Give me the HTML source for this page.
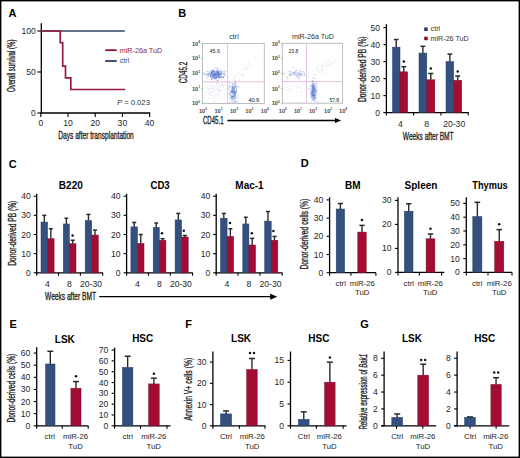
<!DOCTYPE html>
<html><head><meta charset="utf-8"><style>
html,body{margin:0;padding:0;background:#fff;}
body{width:520px;height:458px;overflow:hidden;}
svg{display:block;font-family:"Liberation Sans", sans-serif;}
</style></head><body>
<svg width="520" height="458" viewBox="0 0 520 458">
<defs><filter id="blur" x="-10%" y="-10%" width="120%" height="120%"><feGaussianBlur stdDeviation="0.6"/></filter></defs>
<rect x="0" y="0" width="520" height="458" fill="#fff"/>
<text x="8.5" y="17.25" font-size="11" fill="#000" font-weight="bold">A</text>
<line x1="41.3" y1="23.3" x2="41.3" y2="113.6" stroke="#000" stroke-width="1.3"/>
<line x1="40.6" y1="113" x2="150.2" y2="113" stroke="#000" stroke-width="1.3"/>
<line x1="37.3" y1="31" x2="41.3" y2="31" stroke="#000" stroke-width="1.1"/>
<text x="35.8" y="34.01" font-size="8.6" fill="#262626" text-anchor="end">100</text>
<line x1="37.3" y1="72" x2="41.3" y2="72" stroke="#000" stroke-width="1.1"/>
<text x="35.8" y="75.01" font-size="8.6" fill="#262626" text-anchor="end">50</text>
<line x1="37.3" y1="113" x2="41.3" y2="113" stroke="#000" stroke-width="1.1"/>
<text x="35.8" y="116.01" font-size="8.6" fill="#262626" text-anchor="end">0</text>
<line x1="40.8" y1="113" x2="40.8" y2="117" stroke="#000" stroke-width="1.1"/>
<text x="40.8" y="126.31" font-size="8.6" fill="#262626" text-anchor="middle">0</text>
<line x1="68" y1="113" x2="68" y2="117" stroke="#000" stroke-width="1.1"/>
<text x="68" y="126.31" font-size="8.6" fill="#262626" text-anchor="middle">10</text>
<line x1="95.2" y1="113" x2="95.2" y2="117" stroke="#000" stroke-width="1.1"/>
<text x="95.2" y="126.31" font-size="8.6" fill="#262626" text-anchor="middle">20</text>
<line x1="122.4" y1="113" x2="122.4" y2="117" stroke="#000" stroke-width="1.1"/>
<text x="122.4" y="126.31" font-size="8.6" fill="#262626" text-anchor="middle">30</text>
<line x1="149.6" y1="113" x2="149.6" y2="117" stroke="#000" stroke-width="1.1"/>
<text x="149.6" y="126.31" font-size="8.6" fill="#262626" text-anchor="middle">40</text>
<text x="96" y="139.17" font-size="10.2" fill="#222" stroke="#222" stroke-width="0.32" text-anchor="middle" textLength="75.5" lengthAdjust="spacingAndGlyphs">Days after transplantation</text>
<text transform="translate(15.37 65.8) rotate(-90)" font-size="10.2" fill="#222" stroke="#222" stroke-width="0.32" text-anchor="middle" textLength="52.4" lengthAdjust="spacingAndGlyphs">Overall survival (%)</text>
<line x1="41" y1="31" x2="124.8" y2="31" stroke="#2e456c" stroke-width="1.7"/>
<path d="M41 31 H60.2 V42.7 H62.7 V66.2 H65.5 V77.8 H70.8 V89.5 H125.2" fill="none" stroke="#951b3d" stroke-width="1.7"/>
<line x1="105.2" y1="50.2" x2="116.7" y2="50.2" stroke="#84173a" stroke-width="1.8"/>
<line x1="105.2" y1="61" x2="116.7" y2="61" stroke="#2a3d60" stroke-width="1.8"/>
<text x="119.8" y="52.69" font-size="7.1" fill="#8b2443" textLength="42.3" lengthAdjust="spacingAndGlyphs">miR-26a TuD</text>
<text x="119.8" y="62.98" font-size="7.1" fill="#3d4d70">ctrl</text>
<text x="116.9" y="104.8" font-size="8" fill="#333" textLength="33" lengthAdjust="spacingAndGlyphs"><tspan font-style="italic">P</tspan> = 0.023</text>
<text x="178.2" y="17.05" font-size="11" fill="#000" font-weight="bold">B</text>
<text transform="translate(186.57 72.5) rotate(-90)" font-size="10.2" fill="#222" stroke="#222" stroke-width="0.32" text-anchor="middle" textLength="21.5" lengthAdjust="spacingAndGlyphs">CD45.2</text>
<text x="203" y="123.97" font-size="10.2" fill="#222" stroke="#222" stroke-width="0.32" textLength="20.5" lengthAdjust="spacingAndGlyphs">CD45.1</text>
<line x1="227.4" y1="120.5" x2="336" y2="120.5" stroke="#000" stroke-width="1.3"/>
<path d="M341.2 120.5 L335 117.9 L335 123.1 Z" fill="#000"/>
<rect x="202.5" y="43.5" width="61.8" height="60" fill="none" stroke="#b8b8b8" stroke-width="0.9"/>
<text x="234" y="39.48" font-size="7.1" fill="#333" text-anchor="middle">ctrl</text>
<text x="191.9" y="105.4" font-size="5.6" font-weight="bold" fill="#4a4a4a">10<tspan font-size="3.2" dy="-2.6">0</tspan></text>
<line x1="201.3" y1="103.4" x2="202.5" y2="103.4" stroke="#888" stroke-width="0.6"/>
<text x="191.9" y="90.5" font-size="5.6" font-weight="bold" fill="#4a4a4a">10<tspan font-size="3.2" dy="-2.6">1</tspan></text>
<line x1="201.3" y1="88.5" x2="202.5" y2="88.5" stroke="#888" stroke-width="0.6"/>
<text x="191.9" y="75.3" font-size="5.6" font-weight="bold" fill="#4a4a4a">10<tspan font-size="3.2" dy="-2.6">2</tspan></text>
<line x1="201.3" y1="73.3" x2="202.5" y2="73.3" stroke="#888" stroke-width="0.6"/>
<text x="191.9" y="60.4" font-size="5.6" font-weight="bold" fill="#4a4a4a">10<tspan font-size="3.2" dy="-2.6">3</tspan></text>
<line x1="201.3" y1="58.4" x2="202.5" y2="58.4" stroke="#888" stroke-width="0.6"/>
<text x="191.9" y="46" font-size="5.6" font-weight="bold" fill="#4a4a4a">10<tspan font-size="3.2" dy="-2.6">4</tspan></text>
<line x1="201.3" y1="44" x2="202.5" y2="44" stroke="#888" stroke-width="0.6"/>
<text x="199" y="112.5" font-size="5.6" font-weight="bold" fill="#4a4a4a">10<tspan font-size="3.2" dy="-2.6">0</tspan></text>
<text x="214.45" y="112.5" font-size="5.6" font-weight="bold" fill="#4a4a4a">10<tspan font-size="3.2" dy="-2.6">1</tspan></text>
<text x="229.9" y="112.5" font-size="5.6" font-weight="bold" fill="#4a4a4a">10<tspan font-size="3.2" dy="-2.6">2</tspan></text>
<text x="245.35" y="112.5" font-size="5.6" font-weight="bold" fill="#4a4a4a">10<tspan font-size="3.2" dy="-2.6">3</tspan></text>
<text x="260.8" y="112.5" font-size="5.6" font-weight="bold" fill="#4a4a4a">10<tspan font-size="3.2" dy="-2.6">4</tspan></text>
<g filter="url(#blur)">
<circle cx="221.4" cy="77.8" r="0.6" fill="#5476cc" fill-opacity="0.4"/>
<circle cx="215.8" cy="72.7" r="0.6" fill="#5476cc" fill-opacity="0.4"/>
<circle cx="210.5" cy="74.6" r="0.6" fill="#5476cc" fill-opacity="0.4"/>
<circle cx="210.8" cy="71.2" r="0.6" fill="#5476cc" fill-opacity="0.4"/>
<circle cx="216.4" cy="74.8" r="0.6" fill="#5476cc" fill-opacity="0.4"/>
<circle cx="218.0" cy="72.4" r="0.6" fill="#5476cc" fill-opacity="0.4"/>
<circle cx="215.5" cy="74.4" r="0.6" fill="#5476cc" fill-opacity="0.4"/>
<circle cx="208.6" cy="75.7" r="0.6" fill="#5476cc" fill-opacity="0.4"/>
<circle cx="217.0" cy="80.0" r="0.6" fill="#5476cc" fill-opacity="0.4"/>
<circle cx="216.4" cy="74.2" r="0.6" fill="#5476cc" fill-opacity="0.4"/>
<circle cx="221.2" cy="75.0" r="0.6" fill="#5476cc" fill-opacity="0.4"/>
<circle cx="219.7" cy="73.7" r="0.6" fill="#5476cc" fill-opacity="0.4"/>
<circle cx="216.5" cy="76.9" r="0.6" fill="#5476cc" fill-opacity="0.4"/>
<circle cx="218.7" cy="74.8" r="0.6" fill="#5476cc" fill-opacity="0.4"/>
<circle cx="210.5" cy="75.5" r="0.6" fill="#5476cc" fill-opacity="0.4"/>
<circle cx="215.9" cy="76.2" r="0.6" fill="#5476cc" fill-opacity="0.4"/>
<circle cx="216.5" cy="77.0" r="0.6" fill="#5476cc" fill-opacity="0.4"/>
<circle cx="215.3" cy="75.0" r="0.6" fill="#5476cc" fill-opacity="0.4"/>
<circle cx="218.6" cy="72.0" r="0.6" fill="#5476cc" fill-opacity="0.4"/>
<circle cx="213.7" cy="73.3" r="0.6" fill="#5476cc" fill-opacity="0.4"/>
<circle cx="224.6" cy="74.3" r="0.6" fill="#5476cc" fill-opacity="0.4"/>
<circle cx="218.5" cy="75.9" r="0.6" fill="#5476cc" fill-opacity="0.4"/>
<circle cx="214.2" cy="70.9" r="0.6" fill="#5476cc" fill-opacity="0.4"/>
<circle cx="219.9" cy="73.6" r="0.6" fill="#5476cc" fill-opacity="0.4"/>
<circle cx="218.8" cy="71.5" r="0.6" fill="#5476cc" fill-opacity="0.4"/>
<circle cx="213.5" cy="77.4" r="0.6" fill="#5476cc" fill-opacity="0.4"/>
<circle cx="222.1" cy="71.5" r="0.6" fill="#5476cc" fill-opacity="0.4"/>
<circle cx="209.4" cy="74.4" r="0.6" fill="#5476cc" fill-opacity="0.4"/>
<circle cx="218.8" cy="74.9" r="0.6" fill="#5476cc" fill-opacity="0.4"/>
<circle cx="216.9" cy="72.2" r="0.6" fill="#5476cc" fill-opacity="0.4"/>
<circle cx="218.2" cy="77.1" r="0.6" fill="#5476cc" fill-opacity="0.4"/>
<circle cx="213.5" cy="71.2" r="0.6" fill="#5476cc" fill-opacity="0.4"/>
<circle cx="212.0" cy="76.3" r="0.6" fill="#5476cc" fill-opacity="0.4"/>
<circle cx="207.5" cy="74.3" r="0.6" fill="#5476cc" fill-opacity="0.4"/>
<circle cx="210.9" cy="74.2" r="0.6" fill="#5476cc" fill-opacity="0.4"/>
<circle cx="214.4" cy="74.5" r="0.6" fill="#5476cc" fill-opacity="0.4"/>
<circle cx="222.4" cy="75.5" r="0.6" fill="#5476cc" fill-opacity="0.4"/>
<circle cx="221.6" cy="74.2" r="0.6" fill="#5476cc" fill-opacity="0.4"/>
<circle cx="213.3" cy="75.4" r="0.6" fill="#5476cc" fill-opacity="0.4"/>
<circle cx="216.2" cy="71.7" r="0.6" fill="#5476cc" fill-opacity="0.4"/>
<circle cx="217.6" cy="73.2" r="0.6" fill="#5476cc" fill-opacity="0.4"/>
<circle cx="204.2" cy="74.0" r="0.6" fill="#5476cc" fill-opacity="0.4"/>
<circle cx="211.0" cy="73.3" r="0.6" fill="#5476cc" fill-opacity="0.4"/>
<circle cx="214.8" cy="77.4" r="0.6" fill="#5476cc" fill-opacity="0.4"/>
<circle cx="216.0" cy="74.4" r="0.6" fill="#5476cc" fill-opacity="0.4"/>
<circle cx="217.3" cy="70.3" r="0.6" fill="#5476cc" fill-opacity="0.4"/>
<circle cx="221.2" cy="72.0" r="0.6" fill="#5476cc" fill-opacity="0.4"/>
<circle cx="217.5" cy="71.9" r="0.6" fill="#5476cc" fill-opacity="0.4"/>
<circle cx="211.0" cy="73.6" r="0.6" fill="#5476cc" fill-opacity="0.4"/>
<circle cx="224.2" cy="76.1" r="0.6" fill="#5476cc" fill-opacity="0.4"/>
<circle cx="212.7" cy="73.8" r="0.6" fill="#5476cc" fill-opacity="0.4"/>
<circle cx="210.2" cy="74.4" r="0.6" fill="#5476cc" fill-opacity="0.4"/>
<circle cx="212.9" cy="76.2" r="0.6" fill="#5476cc" fill-opacity="0.4"/>
<circle cx="209.3" cy="73.7" r="0.6" fill="#5476cc" fill-opacity="0.4"/>
<circle cx="211.6" cy="72.8" r="0.6" fill="#5476cc" fill-opacity="0.4"/>
<circle cx="218.8" cy="74.8" r="0.6" fill="#5476cc" fill-opacity="0.4"/>
<circle cx="218.2" cy="77.2" r="0.6" fill="#5476cc" fill-opacity="0.4"/>
<circle cx="220.8" cy="71.3" r="0.6" fill="#5476cc" fill-opacity="0.4"/>
<circle cx="218.0" cy="70.4" r="0.6" fill="#5476cc" fill-opacity="0.4"/>
<circle cx="215.2" cy="78.9" r="0.6" fill="#5476cc" fill-opacity="0.4"/>
<circle cx="214.6" cy="73.7" r="0.6" fill="#5476cc" fill-opacity="0.4"/>
<circle cx="216.3" cy="74.5" r="0.6" fill="#5476cc" fill-opacity="0.4"/>
<circle cx="215.6" cy="72.8" r="0.6" fill="#5476cc" fill-opacity="0.4"/>
<circle cx="220.5" cy="76.5" r="0.6" fill="#5476cc" fill-opacity="0.4"/>
<circle cx="214.5" cy="75.2" r="0.6" fill="#5476cc" fill-opacity="0.4"/>
<circle cx="218.5" cy="76.9" r="0.6" fill="#5476cc" fill-opacity="0.4"/>
<circle cx="217.3" cy="76.1" r="0.6" fill="#5476cc" fill-opacity="0.4"/>
<circle cx="214.3" cy="72.0" r="0.6" fill="#5476cc" fill-opacity="0.4"/>
<circle cx="213.2" cy="76.8" r="0.6" fill="#5476cc" fill-opacity="0.4"/>
<circle cx="220.0" cy="74.8" r="0.6" fill="#5476cc" fill-opacity="0.4"/>
<circle cx="212.9" cy="75.2" r="0.6" fill="#5476cc" fill-opacity="0.4"/>
<circle cx="223.2" cy="77.6" r="0.6" fill="#5476cc" fill-opacity="0.4"/>
<circle cx="212.4" cy="74.4" r="0.6" fill="#5476cc" fill-opacity="0.4"/>
<circle cx="208.8" cy="71.9" r="0.6" fill="#5476cc" fill-opacity="0.4"/>
<circle cx="216.4" cy="74.6" r="0.6" fill="#5476cc" fill-opacity="0.4"/>
<circle cx="219.9" cy="77.4" r="0.6" fill="#5476cc" fill-opacity="0.4"/>
<circle cx="219.3" cy="77.5" r="0.6" fill="#5476cc" fill-opacity="0.4"/>
<circle cx="213.0" cy="71.9" r="0.6" fill="#5476cc" fill-opacity="0.4"/>
<circle cx="217.8" cy="80.7" r="0.6" fill="#5476cc" fill-opacity="0.4"/>
<circle cx="217.1" cy="71.9" r="0.6" fill="#5476cc" fill-opacity="0.4"/>
<circle cx="216.6" cy="77.8" r="0.6" fill="#5476cc" fill-opacity="0.4"/>
<circle cx="210.7" cy="76.3" r="0.6" fill="#5476cc" fill-opacity="0.4"/>
<circle cx="212.7" cy="77.4" r="0.6" fill="#5476cc" fill-opacity="0.4"/>
<circle cx="219.1" cy="75.2" r="0.6" fill="#5476cc" fill-opacity="0.4"/>
<circle cx="224.7" cy="73.6" r="0.6" fill="#5476cc" fill-opacity="0.4"/>
<circle cx="212.3" cy="78.8" r="0.6" fill="#5476cc" fill-opacity="0.4"/>
<circle cx="211.5" cy="79.6" r="0.6" fill="#5476cc" fill-opacity="0.4"/>
<circle cx="215.3" cy="72.1" r="0.6" fill="#5476cc" fill-opacity="0.4"/>
<circle cx="215.5" cy="74.8" r="0.6" fill="#5476cc" fill-opacity="0.4"/>
<circle cx="216.4" cy="74.1" r="0.6" fill="#5476cc" fill-opacity="0.4"/>
<circle cx="220.5" cy="69.2" r="0.6" fill="#5476cc" fill-opacity="0.4"/>
<circle cx="212.9" cy="73.9" r="0.6" fill="#5476cc" fill-opacity="0.4"/>
<circle cx="223.9" cy="69.9" r="0.6" fill="#5476cc" fill-opacity="0.4"/>
<circle cx="213.9" cy="71.9" r="0.6" fill="#5476cc" fill-opacity="0.4"/>
<circle cx="212.4" cy="76.0" r="0.6" fill="#5476cc" fill-opacity="0.4"/>
<circle cx="217.4" cy="77.8" r="0.6" fill="#5476cc" fill-opacity="0.4"/>
<circle cx="212.7" cy="75.1" r="0.6" fill="#5476cc" fill-opacity="0.4"/>
<circle cx="220.9" cy="76.6" r="0.6" fill="#5476cc" fill-opacity="0.4"/>
<circle cx="214.0" cy="77.1" r="0.6" fill="#5476cc" fill-opacity="0.4"/>
<circle cx="211.3" cy="78.6" r="0.6" fill="#5476cc" fill-opacity="0.4"/>
<circle cx="216.2" cy="74.2" r="0.6" fill="#5476cc" fill-opacity="0.4"/>
<circle cx="216.7" cy="76.5" r="0.6" fill="#5476cc" fill-opacity="0.4"/>
<circle cx="223.5" cy="74.2" r="0.6" fill="#5476cc" fill-opacity="0.4"/>
<circle cx="213.8" cy="75.8" r="0.6" fill="#5476cc" fill-opacity="0.4"/>
<circle cx="211.5" cy="70.6" r="0.6" fill="#5476cc" fill-opacity="0.4"/>
<circle cx="219.3" cy="73.6" r="0.6" fill="#5476cc" fill-opacity="0.4"/>
<circle cx="220.7" cy="72.1" r="0.6" fill="#5476cc" fill-opacity="0.4"/>
<circle cx="216.2" cy="78.2" r="0.6" fill="#5476cc" fill-opacity="0.4"/>
<circle cx="217.9" cy="75.2" r="0.6" fill="#5476cc" fill-opacity="0.4"/>
<circle cx="218.2" cy="73.7" r="0.6" fill="#5476cc" fill-opacity="0.4"/>
<circle cx="215.9" cy="71.4" r="0.6" fill="#5476cc" fill-opacity="0.4"/>
<circle cx="217.9" cy="72.6" r="0.6" fill="#5476cc" fill-opacity="0.4"/>
<circle cx="213.4" cy="76.1" r="0.6" fill="#5476cc" fill-opacity="0.4"/>
<circle cx="219.7" cy="72.2" r="0.6" fill="#5476cc" fill-opacity="0.4"/>
<circle cx="224.7" cy="73.1" r="0.6" fill="#5476cc" fill-opacity="0.4"/>
<circle cx="219.3" cy="76.7" r="0.6" fill="#5476cc" fill-opacity="0.4"/>
<circle cx="216.5" cy="74.9" r="0.6" fill="#5476cc" fill-opacity="0.4"/>
<circle cx="223.8" cy="76.5" r="0.6" fill="#5476cc" fill-opacity="0.4"/>
<circle cx="217.5" cy="70.3" r="0.6" fill="#5476cc" fill-opacity="0.4"/>
<circle cx="212.1" cy="77.2" r="0.6" fill="#5476cc" fill-opacity="0.4"/>
<circle cx="216.4" cy="72.3" r="0.6" fill="#5476cc" fill-opacity="0.4"/>
<circle cx="212.5" cy="73.8" r="0.6" fill="#5476cc" fill-opacity="0.4"/>
<circle cx="218.7" cy="75.4" r="0.6" fill="#5476cc" fill-opacity="0.4"/>
<circle cx="220.1" cy="72.6" r="0.6" fill="#5476cc" fill-opacity="0.4"/>
<circle cx="220.0" cy="73.3" r="0.6" fill="#5476cc" fill-opacity="0.4"/>
<circle cx="214.1" cy="78.5" r="0.6" fill="#5476cc" fill-opacity="0.4"/>
<circle cx="215.8" cy="74.2" r="0.6" fill="#5476cc" fill-opacity="0.4"/>
<circle cx="214.5" cy="73.6" r="0.6" fill="#5476cc" fill-opacity="0.4"/>
<circle cx="222.7" cy="77.7" r="0.6" fill="#5476cc" fill-opacity="0.4"/>
<circle cx="218.8" cy="74.9" r="0.6" fill="#5476cc" fill-opacity="0.4"/>
<circle cx="220.3" cy="74.3" r="0.6" fill="#5476cc" fill-opacity="0.4"/>
<circle cx="217.6" cy="75.4" r="0.6" fill="#5476cc" fill-opacity="0.4"/>
<circle cx="215.9" cy="78.3" r="0.6" fill="#5476cc" fill-opacity="0.4"/>
<circle cx="223.6" cy="77.5" r="0.6" fill="#5476cc" fill-opacity="0.4"/>
<circle cx="206.7" cy="78.7" r="0.6" fill="#5476cc" fill-opacity="0.4"/>
<circle cx="218.7" cy="73.5" r="0.6" fill="#5476cc" fill-opacity="0.4"/>
<circle cx="215.4" cy="77.1" r="0.6" fill="#5476cc" fill-opacity="0.4"/>
<circle cx="220.9" cy="76.5" r="0.6" fill="#5476cc" fill-opacity="0.4"/>
<circle cx="216.1" cy="74.6" r="0.6" fill="#5476cc" fill-opacity="0.4"/>
<circle cx="219.3" cy="74.3" r="0.6" fill="#5476cc" fill-opacity="0.4"/>
<circle cx="211.4" cy="73.1" r="0.6" fill="#5476cc" fill-opacity="0.4"/>
<circle cx="214.9" cy="75.3" r="0.6" fill="#5476cc" fill-opacity="0.4"/>
<circle cx="225.9" cy="71.3" r="0.6" fill="#5476cc" fill-opacity="0.4"/>
<circle cx="217.7" cy="74.3" r="0.6" fill="#5476cc" fill-opacity="0.4"/>
<circle cx="216.9" cy="77.6" r="0.6" fill="#5476cc" fill-opacity="0.4"/>
<circle cx="221.2" cy="74.1" r="0.6" fill="#5476cc" fill-opacity="0.4"/>
<circle cx="212.9" cy="71.4" r="0.6" fill="#5476cc" fill-opacity="0.4"/>
<circle cx="215.2" cy="77.4" r="0.6" fill="#5476cc" fill-opacity="0.4"/>
<circle cx="214.3" cy="76.1" r="0.6" fill="#5476cc" fill-opacity="0.4"/>
<circle cx="218.8" cy="75.4" r="0.6" fill="#5476cc" fill-opacity="0.4"/>
<circle cx="220.5" cy="74.2" r="0.6" fill="#5476cc" fill-opacity="0.4"/>
<circle cx="211.7" cy="71.8" r="0.6" fill="#5476cc" fill-opacity="0.4"/>
<circle cx="219.8" cy="73.7" r="0.6" fill="#5476cc" fill-opacity="0.4"/>
<circle cx="214.1" cy="76.4" r="0.6" fill="#5476cc" fill-opacity="0.4"/>
<circle cx="211.9" cy="78.6" r="0.6" fill="#5476cc" fill-opacity="0.4"/>
<circle cx="218.6" cy="73.3" r="0.6" fill="#5476cc" fill-opacity="0.4"/>
<circle cx="212.6" cy="77.0" r="0.6" fill="#5476cc" fill-opacity="0.4"/>
<circle cx="210.1" cy="73.0" r="0.6" fill="#5476cc" fill-opacity="0.4"/>
<circle cx="215.5" cy="75.0" r="0.6" fill="#5476cc" fill-opacity="0.4"/>
<circle cx="215.6" cy="75.4" r="0.6" fill="#5476cc" fill-opacity="0.4"/>
<circle cx="213.8" cy="74.2" r="0.6" fill="#5476cc" fill-opacity="0.4"/>
<circle cx="221.3" cy="76.0" r="0.6" fill="#5476cc" fill-opacity="0.4"/>
<circle cx="213.4" cy="78.4" r="0.6" fill="#5476cc" fill-opacity="0.4"/>
<circle cx="206.3" cy="74.7" r="0.6" fill="#5476cc" fill-opacity="0.4"/>
<circle cx="218.6" cy="76.7" r="0.6" fill="#5476cc" fill-opacity="0.4"/>
<circle cx="216.0" cy="73.6" r="0.6" fill="#5476cc" fill-opacity="0.4"/>
<circle cx="218.2" cy="74.1" r="0.6" fill="#5476cc" fill-opacity="0.4"/>
<circle cx="217.7" cy="67.9" r="0.6" fill="#5476cc" fill-opacity="0.4"/>
<circle cx="217.3" cy="72.7" r="0.6" fill="#5476cc" fill-opacity="0.4"/>
<circle cx="219.8" cy="76.2" r="0.6" fill="#5476cc" fill-opacity="0.4"/>
<circle cx="218.9" cy="73.6" r="0.6" fill="#5476cc" fill-opacity="0.4"/>
<circle cx="217.5" cy="73.7" r="0.6" fill="#5476cc" fill-opacity="0.4"/>
<circle cx="216.5" cy="74.2" r="0.6" fill="#5476cc" fill-opacity="0.4"/>
<circle cx="211.5" cy="79.0" r="0.6" fill="#5476cc" fill-opacity="0.4"/>
<circle cx="218.8" cy="69.8" r="0.6" fill="#5476cc" fill-opacity="0.4"/>
<circle cx="219.6" cy="71.3" r="0.6" fill="#5476cc" fill-opacity="0.4"/>
<circle cx="214.4" cy="73.2" r="0.6" fill="#5476cc" fill-opacity="0.4"/>
<circle cx="213.0" cy="75.1" r="0.6" fill="#5476cc" fill-opacity="0.4"/>
<circle cx="214.0" cy="71.2" r="0.6" fill="#5476cc" fill-opacity="0.4"/>
<circle cx="215.5" cy="75.3" r="0.6" fill="#5476cc" fill-opacity="0.4"/>
<circle cx="223.6" cy="73.5" r="0.6" fill="#5476cc" fill-opacity="0.4"/>
<circle cx="210.0" cy="73.6" r="0.6" fill="#5476cc" fill-opacity="0.4"/>
<circle cx="218.5" cy="72.5" r="0.6" fill="#5476cc" fill-opacity="0.4"/>
<circle cx="212.2" cy="75.8" r="0.6" fill="#5476cc" fill-opacity="0.4"/>
<circle cx="215.4" cy="75.0" r="0.6" fill="#5476cc" fill-opacity="0.4"/>
<circle cx="212.6" cy="72.6" r="0.6" fill="#5476cc" fill-opacity="0.4"/>
<circle cx="214.0" cy="74.1" r="0.6" fill="#5476cc" fill-opacity="0.4"/>
<circle cx="214.0" cy="75.5" r="0.6" fill="#5476cc" fill-opacity="0.4"/>
<circle cx="218.0" cy="75.8" r="0.6" fill="#5476cc" fill-opacity="0.4"/>
<circle cx="217.7" cy="72.5" r="0.6" fill="#5476cc" fill-opacity="0.4"/>
<circle cx="210.4" cy="76.3" r="0.6" fill="#5476cc" fill-opacity="0.4"/>
<circle cx="215.6" cy="74.8" r="0.6" fill="#5476cc" fill-opacity="0.4"/>
<circle cx="210.2" cy="74.0" r="0.6" fill="#5476cc" fill-opacity="0.4"/>
<circle cx="212.6" cy="72.5" r="0.6" fill="#5476cc" fill-opacity="0.4"/>
<circle cx="212.6" cy="71.1" r="0.6" fill="#5476cc" fill-opacity="0.4"/>
<circle cx="215.9" cy="77.2" r="0.6" fill="#5476cc" fill-opacity="0.4"/>
<circle cx="212.2" cy="74.7" r="0.6" fill="#5476cc" fill-opacity="0.4"/>
<circle cx="210.5" cy="76.0" r="0.6" fill="#5476cc" fill-opacity="0.4"/>
<circle cx="224.1" cy="71.7" r="0.6" fill="#5476cc" fill-opacity="0.4"/>
<circle cx="214.5" cy="77.8" r="0.6" fill="#5476cc" fill-opacity="0.4"/>
<circle cx="217.2" cy="74.8" r="0.6" fill="#5476cc" fill-opacity="0.4"/>
<circle cx="206.1" cy="74.2" r="0.6" fill="#5476cc" fill-opacity="0.4"/>
<circle cx="219.7" cy="77.8" r="0.6" fill="#5476cc" fill-opacity="0.4"/>
<circle cx="218.4" cy="73.2" r="0.6" fill="#5476cc" fill-opacity="0.4"/>
<circle cx="212.3" cy="70.3" r="0.6" fill="#5476cc" fill-opacity="0.4"/>
<circle cx="210.6" cy="77.1" r="0.6" fill="#5476cc" fill-opacity="0.4"/>
<circle cx="215.0" cy="71.4" r="0.6" fill="#5476cc" fill-opacity="0.4"/>
<circle cx="221.6" cy="70.7" r="0.6" fill="#5476cc" fill-opacity="0.4"/>
<circle cx="221.3" cy="73.8" r="0.6" fill="#5476cc" fill-opacity="0.4"/>
<circle cx="217.1" cy="76.1" r="0.6" fill="#5476cc" fill-opacity="0.4"/>
<circle cx="216.7" cy="77.4" r="0.6" fill="#5476cc" fill-opacity="0.4"/>
<circle cx="215.6" cy="73.7" r="0.6" fill="#5476cc" fill-opacity="0.4"/>
<circle cx="212.5" cy="71.2" r="0.6" fill="#5476cc" fill-opacity="0.4"/>
<circle cx="212.3" cy="76.8" r="0.6" fill="#5476cc" fill-opacity="0.4"/>
<circle cx="219.3" cy="77.7" r="0.6" fill="#5476cc" fill-opacity="0.4"/>
<circle cx="228.0" cy="76.1" r="0.6" fill="#5476cc" fill-opacity="0.4"/>
<circle cx="217.8" cy="71.5" r="0.6" fill="#5476cc" fill-opacity="0.4"/>
<circle cx="214.4" cy="79.6" r="0.6" fill="#5476cc" fill-opacity="0.4"/>
<circle cx="217.9" cy="74.2" r="0.6" fill="#5476cc" fill-opacity="0.4"/>
<circle cx="216.9" cy="70.1" r="0.6" fill="#5476cc" fill-opacity="0.4"/>
<circle cx="211.7" cy="71.5" r="0.6" fill="#5476cc" fill-opacity="0.4"/>
<circle cx="205.7" cy="76.3" r="0.6" fill="#5476cc" fill-opacity="0.4"/>
<circle cx="219.9" cy="74.1" r="0.6" fill="#5476cc" fill-opacity="0.4"/>
<circle cx="217.1" cy="72.2" r="0.6" fill="#5476cc" fill-opacity="0.4"/>
<circle cx="217.6" cy="76.3" r="0.6" fill="#5476cc" fill-opacity="0.4"/>
<circle cx="222.6" cy="78.1" r="0.6" fill="#5476cc" fill-opacity="0.4"/>
<circle cx="217.7" cy="74.2" r="0.6" fill="#5476cc" fill-opacity="0.4"/>
<circle cx="211.7" cy="73.1" r="0.6" fill="#5476cc" fill-opacity="0.4"/>
<circle cx="218.3" cy="75.8" r="0.6" fill="#5476cc" fill-opacity="0.4"/>
<circle cx="215.6" cy="78.3" r="0.6" fill="#5476cc" fill-opacity="0.4"/>
<circle cx="218.5" cy="74.5" r="0.6" fill="#5476cc" fill-opacity="0.4"/>
<circle cx="214.6" cy="74.7" r="0.6" fill="#5476cc" fill-opacity="0.4"/>
<circle cx="211.1" cy="72.2" r="0.6" fill="#5476cc" fill-opacity="0.4"/>
<circle cx="217.1" cy="73.2" r="0.6" fill="#5476cc" fill-opacity="0.4"/>
<circle cx="214.3" cy="77.3" r="0.6" fill="#5476cc" fill-opacity="0.4"/>
<circle cx="214.6" cy="77.5" r="0.6" fill="#5476cc" fill-opacity="0.4"/>
<circle cx="215.5" cy="78.0" r="0.6" fill="#5476cc" fill-opacity="0.4"/>
<circle cx="217.6" cy="70.5" r="0.6" fill="#5476cc" fill-opacity="0.4"/>
<circle cx="221.2" cy="74.0" r="0.6" fill="#5476cc" fill-opacity="0.4"/>
<circle cx="206.5" cy="74.8" r="0.6" fill="#5476cc" fill-opacity="0.4"/>
<circle cx="216.2" cy="71.5" r="0.6" fill="#5476cc" fill-opacity="0.4"/>
<circle cx="212.7" cy="75.8" r="0.6" fill="#5476cc" fill-opacity="0.4"/>
<circle cx="222.0" cy="77.1" r="0.6" fill="#5476cc" fill-opacity="0.4"/>
<circle cx="221.1" cy="77.1" r="0.6" fill="#5476cc" fill-opacity="0.4"/>
<circle cx="204.1" cy="72.8" r="0.6" fill="#5476cc" fill-opacity="0.4"/>
<circle cx="216.4" cy="68.3" r="0.6" fill="#5476cc" fill-opacity="0.4"/>
<circle cx="219.0" cy="76.6" r="0.6" fill="#5476cc" fill-opacity="0.4"/>
<circle cx="211.9" cy="73.6" r="0.6" fill="#5476cc" fill-opacity="0.4"/>
<circle cx="211.2" cy="74.5" r="0.6" fill="#5476cc" fill-opacity="0.4"/>
<circle cx="215.3" cy="74.5" r="0.6" fill="#5476cc" fill-opacity="0.4"/>
<circle cx="210.8" cy="75.4" r="0.6" fill="#5476cc" fill-opacity="0.4"/>
<circle cx="213.9" cy="76.7" r="0.6" fill="#5476cc" fill-opacity="0.4"/>
<circle cx="216.9" cy="71.1" r="0.6" fill="#5476cc" fill-opacity="0.4"/>
<circle cx="208.9" cy="74.7" r="0.6" fill="#5476cc" fill-opacity="0.4"/>
<circle cx="213.3" cy="75.6" r="0.6" fill="#5476cc" fill-opacity="0.4"/>
<circle cx="219.2" cy="74.5" r="0.6" fill="#5476cc" fill-opacity="0.4"/>
<circle cx="207.7" cy="71.8" r="0.6" fill="#5476cc" fill-opacity="0.4"/>
<circle cx="218.1" cy="72.1" r="0.6" fill="#5476cc" fill-opacity="0.4"/>
<circle cx="220.6" cy="74.3" r="0.6" fill="#5476cc" fill-opacity="0.4"/>
<circle cx="217.9" cy="72.5" r="0.6" fill="#5476cc" fill-opacity="0.4"/>
<circle cx="215.0" cy="67.7" r="0.6" fill="#5476cc" fill-opacity="0.4"/>
<circle cx="214.5" cy="75.8" r="0.6" fill="#5476cc" fill-opacity="0.4"/>
<circle cx="211.4" cy="72.6" r="0.6" fill="#5476cc" fill-opacity="0.4"/>
<circle cx="215.3" cy="74.6" r="0.6" fill="#5476cc" fill-opacity="0.4"/>
<circle cx="211.8" cy="76.1" r="0.6" fill="#5476cc" fill-opacity="0.4"/>
<circle cx="207.9" cy="77.1" r="0.6" fill="#5476cc" fill-opacity="0.4"/>
<circle cx="209.0" cy="72.6" r="0.6" fill="#5476cc" fill-opacity="0.4"/>
<circle cx="221.6" cy="72.2" r="0.6" fill="#5476cc" fill-opacity="0.4"/>
<circle cx="207.9" cy="74.7" r="0.6" fill="#5476cc" fill-opacity="0.4"/>
<circle cx="211.3" cy="71.9" r="0.6" fill="#5476cc" fill-opacity="0.4"/>
<circle cx="212.3" cy="72.8" r="0.6" fill="#5476cc" fill-opacity="0.4"/>
<circle cx="211.0" cy="72.1" r="0.6" fill="#5476cc" fill-opacity="0.4"/>
<circle cx="222.9" cy="73.0" r="0.6" fill="#5476cc" fill-opacity="0.4"/>
<circle cx="220.0" cy="71.3" r="0.6" fill="#5476cc" fill-opacity="0.4"/>
<circle cx="218.0" cy="71.6" r="0.6" fill="#5476cc" fill-opacity="0.4"/>
<circle cx="213.4" cy="76.0" r="0.6" fill="#5476cc" fill-opacity="0.4"/>
<circle cx="213.1" cy="70.0" r="0.6" fill="#5476cc" fill-opacity="0.4"/>
<circle cx="213.0" cy="74.1" r="0.6" fill="#5476cc" fill-opacity="0.4"/>
<circle cx="218.1" cy="72.2" r="0.6" fill="#5476cc" fill-opacity="0.4"/>
<circle cx="214.1" cy="74.6" r="0.6" fill="#5476cc" fill-opacity="0.4"/>
<circle cx="207.9" cy="74.3" r="0.6" fill="#5476cc" fill-opacity="0.4"/>
<circle cx="211.7" cy="75.5" r="0.6" fill="#5476cc" fill-opacity="0.4"/>
<circle cx="215.0" cy="74.1" r="0.6" fill="#5476cc" fill-opacity="0.4"/>
<circle cx="204.4" cy="74.2" r="0.6" fill="#5476cc" fill-opacity="0.4"/>
<circle cx="213.8" cy="72.3" r="0.6" fill="#5476cc" fill-opacity="0.4"/>
<circle cx="213.2" cy="71.6" r="0.6" fill="#5476cc" fill-opacity="0.4"/>
<circle cx="216.3" cy="76.0" r="0.6" fill="#5476cc" fill-opacity="0.4"/>
<circle cx="218.2" cy="73.3" r="0.6" fill="#5476cc" fill-opacity="0.4"/>
<circle cx="223.2" cy="76.5" r="0.6" fill="#5476cc" fill-opacity="0.4"/>
<circle cx="211.1" cy="74.2" r="0.6" fill="#5476cc" fill-opacity="0.4"/>
<circle cx="208.0" cy="74.2" r="0.6" fill="#5476cc" fill-opacity="0.4"/>
<circle cx="218.8" cy="77.4" r="0.6" fill="#5476cc" fill-opacity="0.4"/>
<circle cx="213.6" cy="70.4" r="0.6" fill="#5476cc" fill-opacity="0.4"/>
<circle cx="214.7" cy="77.6" r="0.6" fill="#5476cc" fill-opacity="0.4"/>
<circle cx="216.2" cy="77.4" r="0.6" fill="#5476cc" fill-opacity="0.4"/>
<circle cx="219.3" cy="78.1" r="0.6" fill="#5476cc" fill-opacity="0.4"/>
<circle cx="218.3" cy="73.0" r="0.6" fill="#5476cc" fill-opacity="0.4"/>
<circle cx="217.6" cy="80.3" r="0.6" fill="#5476cc" fill-opacity="0.4"/>
<circle cx="213.1" cy="70.2" r="0.6" fill="#5476cc" fill-opacity="0.4"/>
<circle cx="225.2" cy="75.4" r="0.6" fill="#5476cc" fill-opacity="0.4"/>
<circle cx="212.6" cy="73.1" r="0.6" fill="#5476cc" fill-opacity="0.4"/>
<circle cx="208.4" cy="76.1" r="0.6" fill="#5476cc" fill-opacity="0.4"/>
<circle cx="216.2" cy="73.0" r="0.6" fill="#5476cc" fill-opacity="0.4"/>
<circle cx="213.6" cy="73.5" r="0.6" fill="#5476cc" fill-opacity="0.4"/>
<circle cx="220.4" cy="74.1" r="0.6" fill="#5476cc" fill-opacity="0.4"/>
<circle cx="221.8" cy="72.6" r="0.6" fill="#5476cc" fill-opacity="0.4"/>
<circle cx="212.7" cy="73.4" r="0.6" fill="#5476cc" fill-opacity="0.4"/>
<circle cx="213.0" cy="74.3" r="0.6" fill="#5476cc" fill-opacity="0.4"/>
<circle cx="220.2" cy="77.3" r="0.6" fill="#5476cc" fill-opacity="0.4"/>
<circle cx="210.6" cy="77.4" r="0.6" fill="#5476cc" fill-opacity="0.4"/>
<circle cx="215.9" cy="78.2" r="0.6" fill="#5476cc" fill-opacity="0.4"/>
<circle cx="214.7" cy="72.6" r="0.6" fill="#5476cc" fill-opacity="0.4"/>
<circle cx="219.1" cy="75.9" r="0.6" fill="#5476cc" fill-opacity="0.4"/>
<circle cx="213.4" cy="74.6" r="0.6" fill="#5476cc" fill-opacity="0.4"/>
<circle cx="216.1" cy="75.2" r="0.6" fill="#5476cc" fill-opacity="0.4"/>
<circle cx="207.6" cy="71.7" r="0.6" fill="#5476cc" fill-opacity="0.4"/>
<circle cx="215.8" cy="75.1" r="0.6" fill="#5476cc" fill-opacity="0.4"/>
<circle cx="213.1" cy="70.5" r="0.6" fill="#5476cc" fill-opacity="0.4"/>
<circle cx="236.2" cy="91.0" r="0.6" fill="#5a7acc" fill-opacity="0.4"/>
<circle cx="231.6" cy="100.2" r="0.6" fill="#5a7acc" fill-opacity="0.4"/>
<circle cx="235.8" cy="97.5" r="0.6" fill="#5a7acc" fill-opacity="0.4"/>
<circle cx="235.2" cy="95.2" r="0.6" fill="#5a7acc" fill-opacity="0.4"/>
<circle cx="231.7" cy="92.6" r="0.6" fill="#5a7acc" fill-opacity="0.4"/>
<circle cx="234.3" cy="95.5" r="0.6" fill="#5a7acc" fill-opacity="0.4"/>
<circle cx="234.5" cy="87.7" r="0.6" fill="#5a7acc" fill-opacity="0.4"/>
<circle cx="232.5" cy="90.9" r="0.6" fill="#5a7acc" fill-opacity="0.4"/>
<circle cx="233.2" cy="88.3" r="0.6" fill="#5a7acc" fill-opacity="0.4"/>
<circle cx="230.1" cy="86.7" r="0.6" fill="#5a7acc" fill-opacity="0.4"/>
<circle cx="234.2" cy="92.4" r="0.6" fill="#5a7acc" fill-opacity="0.4"/>
<circle cx="234.7" cy="83.4" r="0.6" fill="#5a7acc" fill-opacity="0.4"/>
<circle cx="232.8" cy="96.8" r="0.6" fill="#5a7acc" fill-opacity="0.4"/>
<circle cx="229.9" cy="87.3" r="0.6" fill="#5a7acc" fill-opacity="0.4"/>
<circle cx="230.4" cy="98.3" r="0.6" fill="#5a7acc" fill-opacity="0.4"/>
<circle cx="233.7" cy="89.7" r="0.6" fill="#5a7acc" fill-opacity="0.4"/>
<circle cx="233.9" cy="92.1" r="0.6" fill="#5a7acc" fill-opacity="0.4"/>
<circle cx="235.3" cy="98.1" r="0.6" fill="#5a7acc" fill-opacity="0.4"/>
<circle cx="235.3" cy="94.1" r="0.6" fill="#5a7acc" fill-opacity="0.4"/>
<circle cx="235.1" cy="96.4" r="0.6" fill="#5a7acc" fill-opacity="0.4"/>
<circle cx="235.8" cy="83.7" r="0.6" fill="#5a7acc" fill-opacity="0.4"/>
<circle cx="234.3" cy="92.9" r="0.6" fill="#5a7acc" fill-opacity="0.4"/>
<circle cx="233.9" cy="91.3" r="0.6" fill="#5a7acc" fill-opacity="0.4"/>
<circle cx="233.5" cy="94.9" r="0.6" fill="#5a7acc" fill-opacity="0.4"/>
<circle cx="234.0" cy="93.1" r="0.6" fill="#5a7acc" fill-opacity="0.4"/>
<circle cx="231.6" cy="86.5" r="0.6" fill="#5a7acc" fill-opacity="0.4"/>
<circle cx="232.2" cy="83.9" r="0.6" fill="#5a7acc" fill-opacity="0.4"/>
<circle cx="232.6" cy="88.4" r="0.6" fill="#5a7acc" fill-opacity="0.4"/>
<circle cx="230.2" cy="83.2" r="0.6" fill="#5a7acc" fill-opacity="0.4"/>
<circle cx="232.7" cy="89.7" r="0.6" fill="#5a7acc" fill-opacity="0.4"/>
<circle cx="237.7" cy="96.6" r="0.6" fill="#5a7acc" fill-opacity="0.4"/>
<circle cx="232.1" cy="90.1" r="0.6" fill="#5a7acc" fill-opacity="0.4"/>
<circle cx="231.7" cy="88.7" r="0.6" fill="#5a7acc" fill-opacity="0.4"/>
<circle cx="232.9" cy="92.3" r="0.6" fill="#5a7acc" fill-opacity="0.4"/>
<circle cx="232.4" cy="96.4" r="0.6" fill="#5a7acc" fill-opacity="0.4"/>
<circle cx="234.8" cy="101.9" r="0.6" fill="#5a7acc" fill-opacity="0.4"/>
<circle cx="231.1" cy="95.7" r="0.6" fill="#5a7acc" fill-opacity="0.4"/>
<circle cx="232.9" cy="84.8" r="0.6" fill="#5a7acc" fill-opacity="0.4"/>
<circle cx="233.0" cy="84.6" r="0.6" fill="#5a7acc" fill-opacity="0.4"/>
<circle cx="236.1" cy="101.2" r="0.6" fill="#5a7acc" fill-opacity="0.4"/>
<circle cx="235.9" cy="85.1" r="0.6" fill="#5a7acc" fill-opacity="0.4"/>
<circle cx="234.4" cy="93.2" r="0.6" fill="#5a7acc" fill-opacity="0.4"/>
<circle cx="234.4" cy="87.5" r="0.6" fill="#5a7acc" fill-opacity="0.4"/>
<circle cx="229.8" cy="102.6" r="0.6" fill="#5a7acc" fill-opacity="0.4"/>
<circle cx="235.9" cy="94.0" r="0.6" fill="#5a7acc" fill-opacity="0.4"/>
<circle cx="232.7" cy="93.4" r="0.6" fill="#5a7acc" fill-opacity="0.4"/>
<circle cx="231.2" cy="97.1" r="0.6" fill="#5a7acc" fill-opacity="0.4"/>
<circle cx="233.9" cy="91.8" r="0.6" fill="#5a7acc" fill-opacity="0.4"/>
<circle cx="232.8" cy="92.2" r="0.6" fill="#5a7acc" fill-opacity="0.4"/>
<circle cx="233.9" cy="90.6" r="0.6" fill="#5a7acc" fill-opacity="0.4"/>
<circle cx="235.4" cy="93.5" r="0.6" fill="#5a7acc" fill-opacity="0.4"/>
<circle cx="233.4" cy="88.4" r="0.6" fill="#5a7acc" fill-opacity="0.4"/>
<circle cx="235.9" cy="98.7" r="0.6" fill="#5a7acc" fill-opacity="0.4"/>
<circle cx="234.9" cy="83.7" r="0.6" fill="#5a7acc" fill-opacity="0.4"/>
<circle cx="232.9" cy="97.3" r="0.6" fill="#5a7acc" fill-opacity="0.4"/>
<circle cx="233.7" cy="98.6" r="0.6" fill="#5a7acc" fill-opacity="0.4"/>
<circle cx="232.8" cy="96.3" r="0.6" fill="#5a7acc" fill-opacity="0.4"/>
<circle cx="234.6" cy="80.8" r="0.6" fill="#5a7acc" fill-opacity="0.4"/>
<circle cx="232.8" cy="91.4" r="0.6" fill="#5a7acc" fill-opacity="0.4"/>
<circle cx="232.4" cy="88.2" r="0.6" fill="#5a7acc" fill-opacity="0.4"/>
<circle cx="236.6" cy="91.9" r="0.6" fill="#5a7acc" fill-opacity="0.4"/>
<circle cx="235.1" cy="86.1" r="0.6" fill="#5a7acc" fill-opacity="0.4"/>
<circle cx="229.7" cy="90.2" r="0.6" fill="#5a7acc" fill-opacity="0.4"/>
<circle cx="234.4" cy="89.0" r="0.6" fill="#5a7acc" fill-opacity="0.4"/>
<circle cx="234.6" cy="96.4" r="0.6" fill="#5a7acc" fill-opacity="0.4"/>
<circle cx="232.7" cy="92.2" r="0.6" fill="#5a7acc" fill-opacity="0.4"/>
<circle cx="232.2" cy="97.7" r="0.6" fill="#5a7acc" fill-opacity="0.4"/>
<circle cx="237.0" cy="94.9" r="0.6" fill="#5a7acc" fill-opacity="0.4"/>
<circle cx="232.6" cy="89.1" r="0.6" fill="#5a7acc" fill-opacity="0.4"/>
<circle cx="233.1" cy="96.8" r="0.6" fill="#5a7acc" fill-opacity="0.4"/>
<circle cx="232.2" cy="99.6" r="0.6" fill="#5a7acc" fill-opacity="0.4"/>
<circle cx="231.3" cy="92.5" r="0.6" fill="#5a7acc" fill-opacity="0.4"/>
<circle cx="236.1" cy="101.1" r="0.6" fill="#5a7acc" fill-opacity="0.4"/>
<circle cx="232.8" cy="96.3" r="0.6" fill="#5a7acc" fill-opacity="0.4"/>
<circle cx="238.4" cy="98.1" r="0.6" fill="#5a7acc" fill-opacity="0.4"/>
<circle cx="229.4" cy="93.8" r="0.6" fill="#5a7acc" fill-opacity="0.4"/>
<circle cx="238.1" cy="86.9" r="0.6" fill="#5a7acc" fill-opacity="0.4"/>
<circle cx="235.3" cy="82.5" r="0.6" fill="#5a7acc" fill-opacity="0.4"/>
<circle cx="236.6" cy="88.5" r="0.6" fill="#5a7acc" fill-opacity="0.4"/>
<circle cx="235.1" cy="96.9" r="0.6" fill="#5a7acc" fill-opacity="0.4"/>
<circle cx="228.3" cy="85.6" r="0.6" fill="#5a7acc" fill-opacity="0.4"/>
<circle cx="234.2" cy="85.2" r="0.6" fill="#5a7acc" fill-opacity="0.4"/>
<circle cx="233.6" cy="88.0" r="0.6" fill="#5a7acc" fill-opacity="0.4"/>
<circle cx="236.2" cy="90.1" r="0.6" fill="#5a7acc" fill-opacity="0.4"/>
<circle cx="231.9" cy="95.6" r="0.6" fill="#5a7acc" fill-opacity="0.4"/>
<circle cx="235.9" cy="91.7" r="0.6" fill="#5a7acc" fill-opacity="0.4"/>
<circle cx="234.1" cy="94.9" r="0.6" fill="#5a7acc" fill-opacity="0.4"/>
<circle cx="232.7" cy="86.8" r="0.6" fill="#5a7acc" fill-opacity="0.4"/>
<circle cx="234.6" cy="90.8" r="0.6" fill="#5a7acc" fill-opacity="0.4"/>
<circle cx="231.0" cy="96.6" r="0.6" fill="#5a7acc" fill-opacity="0.4"/>
<circle cx="234.4" cy="93.2" r="0.6" fill="#5a7acc" fill-opacity="0.4"/>
<circle cx="232.2" cy="91.4" r="0.6" fill="#5a7acc" fill-opacity="0.4"/>
<circle cx="234.8" cy="94.8" r="0.6" fill="#5a7acc" fill-opacity="0.4"/>
<circle cx="232.0" cy="88.2" r="0.6" fill="#5a7acc" fill-opacity="0.4"/>
<circle cx="234.3" cy="93.4" r="0.6" fill="#5a7acc" fill-opacity="0.4"/>
<circle cx="235.2" cy="86.9" r="0.6" fill="#5a7acc" fill-opacity="0.4"/>
<circle cx="235.4" cy="101.0" r="0.6" fill="#5a7acc" fill-opacity="0.4"/>
<circle cx="235.4" cy="93.1" r="0.6" fill="#5a7acc" fill-opacity="0.4"/>
<circle cx="235.3" cy="86.3" r="0.6" fill="#5a7acc" fill-opacity="0.4"/>
<circle cx="232.8" cy="102.4" r="0.6" fill="#5a7acc" fill-opacity="0.4"/>
<circle cx="230.5" cy="86.9" r="0.6" fill="#5a7acc" fill-opacity="0.4"/>
<circle cx="235.2" cy="89.3" r="0.6" fill="#5a7acc" fill-opacity="0.4"/>
<circle cx="232.5" cy="87.1" r="0.6" fill="#5a7acc" fill-opacity="0.4"/>
<circle cx="236.8" cy="89.6" r="0.6" fill="#5a7acc" fill-opacity="0.4"/>
<circle cx="233.1" cy="83.8" r="0.6" fill="#5a7acc" fill-opacity="0.4"/>
<circle cx="235.1" cy="92.5" r="0.6" fill="#5a7acc" fill-opacity="0.4"/>
<circle cx="234.5" cy="100.1" r="0.6" fill="#5a7acc" fill-opacity="0.4"/>
<circle cx="233.9" cy="86.8" r="0.6" fill="#5a7acc" fill-opacity="0.4"/>
<circle cx="231.7" cy="92.9" r="0.6" fill="#5a7acc" fill-opacity="0.4"/>
<circle cx="236.1" cy="86.7" r="0.6" fill="#5a7acc" fill-opacity="0.4"/>
<circle cx="233.1" cy="91.8" r="0.6" fill="#5a7acc" fill-opacity="0.4"/>
<circle cx="234.8" cy="88.2" r="0.6" fill="#5a7acc" fill-opacity="0.4"/>
<circle cx="234.2" cy="96.3" r="0.6" fill="#5a7acc" fill-opacity="0.4"/>
<circle cx="233.5" cy="92.0" r="0.6" fill="#5a7acc" fill-opacity="0.4"/>
<circle cx="234.8" cy="95.3" r="0.6" fill="#5a7acc" fill-opacity="0.4"/>
<circle cx="236.0" cy="87.3" r="0.6" fill="#5a7acc" fill-opacity="0.4"/>
<circle cx="235.9" cy="91.4" r="0.6" fill="#5a7acc" fill-opacity="0.4"/>
<circle cx="231.4" cy="89.8" r="0.6" fill="#5a7acc" fill-opacity="0.4"/>
<circle cx="231.3" cy="91.5" r="0.6" fill="#5a7acc" fill-opacity="0.4"/>
<circle cx="235.6" cy="81.7" r="0.6" fill="#5a7acc" fill-opacity="0.4"/>
<circle cx="231.4" cy="96.2" r="0.6" fill="#5a7acc" fill-opacity="0.4"/>
<circle cx="233.0" cy="96.3" r="0.6" fill="#5a7acc" fill-opacity="0.4"/>
<circle cx="231.1" cy="92.2" r="0.6" fill="#5a7acc" fill-opacity="0.4"/>
<circle cx="228.6" cy="88.4" r="0.6" fill="#5a7acc" fill-opacity="0.4"/>
<circle cx="235.0" cy="98.3" r="0.6" fill="#5a7acc" fill-opacity="0.4"/>
<circle cx="236.7" cy="92.2" r="0.6" fill="#5a7acc" fill-opacity="0.4"/>
<circle cx="231.9" cy="90.6" r="0.6" fill="#5a7acc" fill-opacity="0.4"/>
<circle cx="230.0" cy="99.0" r="0.6" fill="#5a7acc" fill-opacity="0.4"/>
<circle cx="235.8" cy="88.1" r="0.6" fill="#5a7acc" fill-opacity="0.4"/>
<circle cx="237.1" cy="86.0" r="0.6" fill="#5a7acc" fill-opacity="0.4"/>
<circle cx="234.7" cy="88.6" r="0.6" fill="#5a7acc" fill-opacity="0.4"/>
<circle cx="230.3" cy="94.4" r="0.6" fill="#5a7acc" fill-opacity="0.4"/>
<circle cx="231.4" cy="98.2" r="0.6" fill="#5a7acc" fill-opacity="0.4"/>
<circle cx="231.9" cy="93.0" r="0.6" fill="#5a7acc" fill-opacity="0.4"/>
<circle cx="232.7" cy="93.1" r="0.6" fill="#5a7acc" fill-opacity="0.4"/>
<circle cx="232.4" cy="96.4" r="0.6" fill="#5a7acc" fill-opacity="0.4"/>
<circle cx="234.8" cy="92.8" r="0.6" fill="#5a7acc" fill-opacity="0.4"/>
<circle cx="233.4" cy="102.0" r="0.6" fill="#5a7acc" fill-opacity="0.4"/>
<circle cx="232.3" cy="90.4" r="0.6" fill="#5a7acc" fill-opacity="0.4"/>
<circle cx="235.1" cy="92.4" r="0.6" fill="#5a7acc" fill-opacity="0.4"/>
<circle cx="230.5" cy="91.8" r="0.6" fill="#5a7acc" fill-opacity="0.4"/>
<circle cx="232.9" cy="87.7" r="0.6" fill="#5a7acc" fill-opacity="0.4"/>
<circle cx="234.0" cy="87.0" r="0.6" fill="#5a7acc" fill-opacity="0.4"/>
<circle cx="233.1" cy="87.0" r="0.6" fill="#5a7acc" fill-opacity="0.4"/>
<circle cx="236.6" cy="91.1" r="0.6" fill="#5a7acc" fill-opacity="0.4"/>
<circle cx="234.4" cy="93.9" r="0.6" fill="#5a7acc" fill-opacity="0.4"/>
<circle cx="234.9" cy="91.8" r="0.6" fill="#5a7acc" fill-opacity="0.4"/>
<circle cx="235.0" cy="93.1" r="0.6" fill="#5a7acc" fill-opacity="0.4"/>
<circle cx="229.0" cy="94.0" r="0.6" fill="#5a7acc" fill-opacity="0.4"/>
<circle cx="231.1" cy="97.1" r="0.6" fill="#5a7acc" fill-opacity="0.4"/>
<circle cx="234.0" cy="90.7" r="0.6" fill="#5a7acc" fill-opacity="0.4"/>
<circle cx="228.8" cy="82.2" r="0.6" fill="#5a7acc" fill-opacity="0.4"/>
<circle cx="231.4" cy="90.7" r="0.6" fill="#5a7acc" fill-opacity="0.4"/>
<circle cx="231.0" cy="102.0" r="0.6" fill="#5a7acc" fill-opacity="0.4"/>
<circle cx="234.5" cy="92.1" r="0.6" fill="#5a7acc" fill-opacity="0.4"/>
<circle cx="231.7" cy="90.9" r="0.6" fill="#5a7acc" fill-opacity="0.4"/>
<circle cx="233.1" cy="90.4" r="0.6" fill="#5a7acc" fill-opacity="0.4"/>
<circle cx="233.5" cy="96.4" r="0.6" fill="#5a7acc" fill-opacity="0.4"/>
<circle cx="230.3" cy="93.6" r="0.6" fill="#5a7acc" fill-opacity="0.4"/>
<circle cx="235.7" cy="85.9" r="0.6" fill="#5a7acc" fill-opacity="0.4"/>
<circle cx="233.2" cy="90.7" r="0.6" fill="#5a7acc" fill-opacity="0.4"/>
<circle cx="231.4" cy="97.1" r="0.6" fill="#5a7acc" fill-opacity="0.4"/>
<circle cx="233.0" cy="98.0" r="0.6" fill="#5a7acc" fill-opacity="0.4"/>
<circle cx="234.4" cy="91.2" r="0.6" fill="#5a7acc" fill-opacity="0.4"/>
<circle cx="234.1" cy="90.7" r="0.6" fill="#5a7acc" fill-opacity="0.4"/>
<circle cx="230.5" cy="99.3" r="0.6" fill="#5a7acc" fill-opacity="0.4"/>
<circle cx="234.3" cy="98.1" r="0.6" fill="#5a7acc" fill-opacity="0.4"/>
<circle cx="230.2" cy="97.5" r="0.6" fill="#5a7acc" fill-opacity="0.4"/>
<circle cx="235.2" cy="92.3" r="0.6" fill="#5a7acc" fill-opacity="0.4"/>
<circle cx="229.6" cy="93.0" r="0.6" fill="#5a7acc" fill-opacity="0.4"/>
<circle cx="232.3" cy="91.6" r="0.6" fill="#5a7acc" fill-opacity="0.4"/>
<circle cx="233.7" cy="88.2" r="0.6" fill="#5a7acc" fill-opacity="0.4"/>
<circle cx="233.4" cy="92.6" r="0.6" fill="#5a7acc" fill-opacity="0.4"/>
<circle cx="236.4" cy="92.0" r="0.6" fill="#5a7acc" fill-opacity="0.4"/>
<circle cx="238.1" cy="86.8" r="0.6" fill="#5a7acc" fill-opacity="0.4"/>
<circle cx="233.3" cy="98.5" r="0.6" fill="#5a7acc" fill-opacity="0.4"/>
<circle cx="230.6" cy="95.5" r="0.6" fill="#5a7acc" fill-opacity="0.4"/>
<circle cx="234.4" cy="89.6" r="0.6" fill="#5a7acc" fill-opacity="0.4"/>
<circle cx="233.1" cy="99.9" r="0.6" fill="#5a7acc" fill-opacity="0.4"/>
<circle cx="232.7" cy="93.8" r="0.6" fill="#5a7acc" fill-opacity="0.4"/>
<circle cx="234.4" cy="98.3" r="0.6" fill="#5a7acc" fill-opacity="0.4"/>
<circle cx="229.7" cy="85.4" r="0.6" fill="#5a7acc" fill-opacity="0.4"/>
<circle cx="231.1" cy="91.2" r="0.6" fill="#5a7acc" fill-opacity="0.4"/>
<circle cx="234.8" cy="96.5" r="0.6" fill="#5a7acc" fill-opacity="0.4"/>
<circle cx="233.1" cy="99.8" r="0.6" fill="#5a7acc" fill-opacity="0.4"/>
<circle cx="233.5" cy="95.8" r="0.6" fill="#5a7acc" fill-opacity="0.4"/>
<circle cx="232.2" cy="96.5" r="0.6" fill="#5a7acc" fill-opacity="0.4"/>
<circle cx="232.2" cy="98.1" r="0.6" fill="#5a7acc" fill-opacity="0.4"/>
<circle cx="235.2" cy="101.5" r="0.6" fill="#5a7acc" fill-opacity="0.4"/>
<circle cx="232.8" cy="86.9" r="0.6" fill="#5a7acc" fill-opacity="0.4"/>
<circle cx="235.2" cy="94.0" r="0.6" fill="#5a7acc" fill-opacity="0.4"/>
<circle cx="232.6" cy="86.1" r="0.6" fill="#5a7acc" fill-opacity="0.4"/>
<circle cx="235.1" cy="83.1" r="0.6" fill="#5a7acc" fill-opacity="0.4"/>
<circle cx="232.7" cy="97.6" r="0.6" fill="#5a7acc" fill-opacity="0.4"/>
<circle cx="233.1" cy="94.7" r="0.6" fill="#5a7acc" fill-opacity="0.4"/>
<circle cx="234.5" cy="95.3" r="0.6" fill="#5a7acc" fill-opacity="0.4"/>
<circle cx="235.6" cy="95.6" r="0.6" fill="#5a7acc" fill-opacity="0.4"/>
<circle cx="232.9" cy="86.6" r="0.6" fill="#5a7acc" fill-opacity="0.4"/>
<circle cx="233.1" cy="89.3" r="0.6" fill="#5a7acc" fill-opacity="0.4"/>
<circle cx="217.4" cy="95.1" r="0.5" fill="#a0a8dc" fill-opacity="0.33"/>
<circle cx="219.7" cy="85.5" r="0.5" fill="#a0a8dc" fill-opacity="0.33"/>
<circle cx="216.2" cy="89.0" r="0.5" fill="#a0a8dc" fill-opacity="0.33"/>
<circle cx="212.2" cy="95.5" r="0.5" fill="#a0a8dc" fill-opacity="0.33"/>
<circle cx="218.7" cy="90.8" r="0.5" fill="#a0a8dc" fill-opacity="0.33"/>
<circle cx="207.7" cy="75.9" r="0.5" fill="#a0a8dc" fill-opacity="0.33"/>
<circle cx="210.6" cy="94.7" r="0.5" fill="#a0a8dc" fill-opacity="0.33"/>
<circle cx="213.7" cy="88.9" r="0.5" fill="#a0a8dc" fill-opacity="0.33"/>
<circle cx="213.4" cy="91.4" r="0.5" fill="#a0a8dc" fill-opacity="0.33"/>
<circle cx="214.9" cy="97.6" r="0.5" fill="#a0a8dc" fill-opacity="0.33"/>
<circle cx="214.3" cy="87.7" r="0.5" fill="#a0a8dc" fill-opacity="0.33"/>
<circle cx="223.5" cy="92.8" r="0.5" fill="#a0a8dc" fill-opacity="0.33"/>
<circle cx="219.2" cy="91.6" r="0.5" fill="#a0a8dc" fill-opacity="0.33"/>
<circle cx="214.8" cy="90.6" r="0.5" fill="#a0a8dc" fill-opacity="0.33"/>
<circle cx="218.2" cy="89.5" r="0.5" fill="#a0a8dc" fill-opacity="0.33"/>
<circle cx="203.7" cy="95.9" r="0.5" fill="#a0a8dc" fill-opacity="0.33"/>
<circle cx="212.1" cy="86.2" r="0.5" fill="#a0a8dc" fill-opacity="0.33"/>
<circle cx="212.9" cy="85.4" r="0.5" fill="#a0a8dc" fill-opacity="0.33"/>
<circle cx="209.7" cy="88.6" r="0.5" fill="#a0a8dc" fill-opacity="0.33"/>
<circle cx="220.3" cy="87.5" r="0.5" fill="#a0a8dc" fill-opacity="0.33"/>
<circle cx="217.8" cy="82.2" r="0.5" fill="#a0a8dc" fill-opacity="0.33"/>
<circle cx="219.5" cy="83.3" r="0.5" fill="#a0a8dc" fill-opacity="0.33"/>
<circle cx="219.2" cy="85.3" r="0.5" fill="#a0a8dc" fill-opacity="0.33"/>
<circle cx="211.4" cy="82.7" r="0.5" fill="#a0a8dc" fill-opacity="0.33"/>
<circle cx="207.4" cy="87.9" r="0.5" fill="#a0a8dc" fill-opacity="0.33"/>
<circle cx="209.1" cy="87.9" r="0.5" fill="#a0a8dc" fill-opacity="0.33"/>
<circle cx="221.8" cy="84.8" r="0.5" fill="#a0a8dc" fill-opacity="0.33"/>
<circle cx="213.1" cy="88.5" r="0.5" fill="#a0a8dc" fill-opacity="0.33"/>
<circle cx="211.3" cy="88.8" r="0.5" fill="#a0a8dc" fill-opacity="0.33"/>
<circle cx="216.4" cy="94.2" r="0.5" fill="#a0a8dc" fill-opacity="0.33"/>
<circle cx="210.6" cy="87.9" r="0.5" fill="#a0a8dc" fill-opacity="0.33"/>
<circle cx="214.0" cy="95.1" r="0.5" fill="#a0a8dc" fill-opacity="0.33"/>
<circle cx="209.0" cy="89.9" r="0.5" fill="#a0a8dc" fill-opacity="0.33"/>
<circle cx="219.6" cy="91.9" r="0.5" fill="#a0a8dc" fill-opacity="0.33"/>
<circle cx="210.7" cy="83.8" r="0.5" fill="#a0a8dc" fill-opacity="0.33"/>
<circle cx="203.9" cy="86.3" r="0.5" fill="#a0a8dc" fill-opacity="0.33"/>
<circle cx="213.5" cy="81.5" r="0.5" fill="#a0a8dc" fill-opacity="0.33"/>
<circle cx="220.1" cy="89.8" r="0.5" fill="#a0a8dc" fill-opacity="0.33"/>
<circle cx="213.6" cy="86.3" r="0.5" fill="#a0a8dc" fill-opacity="0.33"/>
<circle cx="217.8" cy="87.6" r="0.5" fill="#a0a8dc" fill-opacity="0.33"/>
<circle cx="218.0" cy="86.6" r="0.5" fill="#a0a8dc" fill-opacity="0.33"/>
<circle cx="221.3" cy="80.9" r="0.5" fill="#a0a8dc" fill-opacity="0.33"/>
<circle cx="208.6" cy="98.0" r="0.5" fill="#a0a8dc" fill-opacity="0.33"/>
<circle cx="221.3" cy="97.2" r="0.5" fill="#a0a8dc" fill-opacity="0.33"/>
<circle cx="210.2" cy="92.6" r="0.5" fill="#a0a8dc" fill-opacity="0.33"/>
<circle cx="221.0" cy="93.6" r="0.5" fill="#a0a8dc" fill-opacity="0.33"/>
<circle cx="213.9" cy="96.4" r="0.5" fill="#a0a8dc" fill-opacity="0.33"/>
<circle cx="217.5" cy="82.5" r="0.5" fill="#a0a8dc" fill-opacity="0.33"/>
<circle cx="229.8" cy="89.6" r="0.5" fill="#a0a8dc" fill-opacity="0.33"/>
<circle cx="222.5" cy="85.5" r="0.5" fill="#a0a8dc" fill-opacity="0.33"/>
<circle cx="209.4" cy="93.4" r="0.5" fill="#a0a8dc" fill-opacity="0.33"/>
<circle cx="219.9" cy="85.3" r="0.5" fill="#a0a8dc" fill-opacity="0.33"/>
<circle cx="216.5" cy="82.4" r="0.5" fill="#a0a8dc" fill-opacity="0.33"/>
<circle cx="208.1" cy="92.7" r="0.5" fill="#a0a8dc" fill-opacity="0.33"/>
<circle cx="221.4" cy="90.9" r="0.5" fill="#a0a8dc" fill-opacity="0.33"/>
<circle cx="224.1" cy="90.8" r="0.5" fill="#a0a8dc" fill-opacity="0.33"/>
<circle cx="216.8" cy="89.0" r="0.5" fill="#a0a8dc" fill-opacity="0.33"/>
<circle cx="217.5" cy="90.8" r="0.5" fill="#a0a8dc" fill-opacity="0.33"/>
<circle cx="209.4" cy="88.8" r="0.5" fill="#a0a8dc" fill-opacity="0.33"/>
<circle cx="222.4" cy="85.1" r="0.5" fill="#a0a8dc" fill-opacity="0.33"/>
<circle cx="218.6" cy="80.2" r="0.5" fill="#a0a8dc" fill-opacity="0.33"/>
<circle cx="215.3" cy="98.1" r="0.5" fill="#a0a8dc" fill-opacity="0.33"/>
<circle cx="215.5" cy="95.4" r="0.5" fill="#a0a8dc" fill-opacity="0.33"/>
<circle cx="212.8" cy="91.3" r="0.5" fill="#a0a8dc" fill-opacity="0.33"/>
<circle cx="217.2" cy="78.0" r="0.5" fill="#a0a8dc" fill-opacity="0.33"/>
<circle cx="210.2" cy="98.5" r="0.5" fill="#a0a8dc" fill-opacity="0.33"/>
<circle cx="210.0" cy="95.0" r="0.5" fill="#a0a8dc" fill-opacity="0.33"/>
<circle cx="225.3" cy="88.8" r="0.5" fill="#a0a8dc" fill-opacity="0.33"/>
<circle cx="221.0" cy="90.8" r="0.5" fill="#a0a8dc" fill-opacity="0.33"/>
<circle cx="211.4" cy="91.9" r="0.5" fill="#a0a8dc" fill-opacity="0.33"/>
<circle cx="217.6" cy="84.1" r="0.5" fill="#a0a8dc" fill-opacity="0.33"/>
<circle cx="212.3" cy="82.3" r="0.5" fill="#a0a8dc" fill-opacity="0.33"/>
<circle cx="213.0" cy="88.8" r="0.5" fill="#a0a8dc" fill-opacity="0.33"/>
<circle cx="209.1" cy="79.7" r="0.5" fill="#a0a8dc" fill-opacity="0.33"/>
<circle cx="219.0" cy="95.3" r="0.5" fill="#a0a8dc" fill-opacity="0.33"/>
<circle cx="209.5" cy="89.4" r="0.5" fill="#a0a8dc" fill-opacity="0.33"/>
<circle cx="211.0" cy="75.8" r="0.5" fill="#a0a8dc" fill-opacity="0.33"/>
<circle cx="227.7" cy="90.4" r="0.5" fill="#a0a8dc" fill-opacity="0.33"/>
<circle cx="206.6" cy="95.3" r="0.5" fill="#a0a8dc" fill-opacity="0.33"/>
<circle cx="219.3" cy="96.1" r="0.5" fill="#a0a8dc" fill-opacity="0.33"/>
<circle cx="219.4" cy="91.7" r="0.5" fill="#a0a8dc" fill-opacity="0.33"/>
<circle cx="223.6" cy="87.6" r="0.5" fill="#a0a8dc" fill-opacity="0.33"/>
<circle cx="216.4" cy="83.6" r="0.5" fill="#a0a8dc" fill-opacity="0.33"/>
<circle cx="208.1" cy="90.0" r="0.5" fill="#a0a8dc" fill-opacity="0.33"/>
<circle cx="216.4" cy="81.1" r="0.5" fill="#a0a8dc" fill-opacity="0.33"/>
<circle cx="217.2" cy="94.1" r="0.5" fill="#a0a8dc" fill-opacity="0.33"/>
<circle cx="207.5" cy="87.3" r="0.5" fill="#a0a8dc" fill-opacity="0.33"/>
<circle cx="225.3" cy="84.8" r="0.5" fill="#a0a8dc" fill-opacity="0.33"/>
<circle cx="218.4" cy="92.9" r="0.5" fill="#a0a8dc" fill-opacity="0.33"/>
<circle cx="216.1" cy="89.7" r="0.5" fill="#a0a8dc" fill-opacity="0.33"/>
<circle cx="218.4" cy="90.4" r="0.5" fill="#a0a8dc" fill-opacity="0.33"/>
<circle cx="215.9" cy="81.6" r="0.5" fill="#a0a8dc" fill-opacity="0.33"/>
<circle cx="216.5" cy="85.1" r="0.5" fill="#a0a8dc" fill-opacity="0.33"/>
<circle cx="224.0" cy="100.1" r="0.5" fill="#a0a8dc" fill-opacity="0.33"/>
<circle cx="221.7" cy="78.2" r="0.5" fill="#a0a8dc" fill-opacity="0.33"/>
<circle cx="221.0" cy="89.6" r="0.5" fill="#a0a8dc" fill-opacity="0.33"/>
<circle cx="208.5" cy="82.9" r="0.5" fill="#a0a8dc" fill-opacity="0.33"/>
<circle cx="221.4" cy="85.8" r="0.5" fill="#a0a8dc" fill-opacity="0.33"/>
<circle cx="214.5" cy="89.3" r="0.5" fill="#a0a8dc" fill-opacity="0.33"/>
<circle cx="220.7" cy="75.6" r="0.5" fill="#a0a8dc" fill-opacity="0.33"/>
<circle cx="222.4" cy="84.9" r="0.5" fill="#a0a8dc" fill-opacity="0.33"/>
<circle cx="212.6" cy="92.1" r="0.5" fill="#a0a8dc" fill-opacity="0.33"/>
<circle cx="217.2" cy="77.4" r="0.5" fill="#a0a8dc" fill-opacity="0.33"/>
<circle cx="218.6" cy="88.2" r="0.5" fill="#a0a8dc" fill-opacity="0.33"/>
<circle cx="208.8" cy="85.9" r="0.5" fill="#a0a8dc" fill-opacity="0.33"/>
<circle cx="205.4" cy="92.9" r="0.5" fill="#a0a8dc" fill-opacity="0.33"/>
<circle cx="223.9" cy="85.8" r="0.5" fill="#a0a8dc" fill-opacity="0.33"/>
<circle cx="212.2" cy="81.7" r="0.5" fill="#a0a8dc" fill-opacity="0.33"/>
<circle cx="245.8" cy="65.2" r="0.5" fill="#b4b8d0" fill-opacity="0.35"/>
<circle cx="253.3" cy="65.3" r="0.5" fill="#b4b8d0" fill-opacity="0.35"/>
<circle cx="238.0" cy="70.2" r="0.5" fill="#b4b8d0" fill-opacity="0.35"/>
<circle cx="245.3" cy="69.2" r="0.5" fill="#b4b8d0" fill-opacity="0.35"/>
<circle cx="234.4" cy="79.1" r="0.5" fill="#b4b8d0" fill-opacity="0.35"/>
<circle cx="235.8" cy="75.6" r="0.5" fill="#b4b8d0" fill-opacity="0.35"/>
<circle cx="255.1" cy="56.2" r="0.5" fill="#b4b8d0" fill-opacity="0.35"/>
<circle cx="242.0" cy="69.2" r="0.5" fill="#b4b8d0" fill-opacity="0.35"/>
<circle cx="243.3" cy="73.0" r="0.5" fill="#b4b8d0" fill-opacity="0.35"/>
<circle cx="242.7" cy="75.8" r="0.5" fill="#b4b8d0" fill-opacity="0.35"/>
<circle cx="242.5" cy="74.7" r="0.5" fill="#b4b8d0" fill-opacity="0.35"/>
<circle cx="252.9" cy="58.0" r="0.5" fill="#b4b8d0" fill-opacity="0.35"/>
<circle cx="248.8" cy="65.1" r="0.5" fill="#b4b8d0" fill-opacity="0.35"/>
<circle cx="236.9" cy="76.0" r="0.5" fill="#b4b8d0" fill-opacity="0.35"/>
<circle cx="244.0" cy="70.8" r="0.5" fill="#b4b8d0" fill-opacity="0.35"/>
<circle cx="239.5" cy="78.7" r="0.5" fill="#b4b8d0" fill-opacity="0.35"/>
<circle cx="245.7" cy="70.7" r="0.5" fill="#b4b8d0" fill-opacity="0.35"/>
<circle cx="250.1" cy="59.3" r="0.5" fill="#b4b8d0" fill-opacity="0.35"/>
<circle cx="242.6" cy="74.7" r="0.5" fill="#b4b8d0" fill-opacity="0.35"/>
<circle cx="234.0" cy="77.5" r="0.5" fill="#b4b8d0" fill-opacity="0.35"/>
<circle cx="247.1" cy="66.1" r="0.5" fill="#b4b8d0" fill-opacity="0.35"/>
<circle cx="248.3" cy="69.3" r="0.5" fill="#b4b8d0" fill-opacity="0.35"/>
<circle cx="233.9" cy="80.8" r="0.5" fill="#b4b8d0" fill-opacity="0.35"/>
<circle cx="235.0" cy="67.5" r="0.5" fill="#b4b8d0" fill-opacity="0.35"/>
<circle cx="241.5" cy="70.6" r="0.5" fill="#b4b8d0" fill-opacity="0.35"/>
<circle cx="247.2" cy="66.9" r="0.5" fill="#b4b8d0" fill-opacity="0.35"/>
<circle cx="234.9" cy="76.5" r="0.5" fill="#b4b8d0" fill-opacity="0.35"/>
<circle cx="242.0" cy="74.2" r="0.5" fill="#b4b8d0" fill-opacity="0.35"/>
<circle cx="243.1" cy="64.2" r="0.5" fill="#b4b8d0" fill-opacity="0.35"/>
<circle cx="242.5" cy="76.1" r="0.5" fill="#b4b8d0" fill-opacity="0.35"/>
<circle cx="242.0" cy="67.3" r="0.5" fill="#b4b8d0" fill-opacity="0.35"/>
<circle cx="251.0" cy="69.1" r="0.5" fill="#b4b8d0" fill-opacity="0.35"/>
<circle cx="247.2" cy="67.8" r="0.5" fill="#b4b8d0" fill-opacity="0.35"/>
<circle cx="248.1" cy="72.6" r="0.5" fill="#b4b8d0" fill-opacity="0.35"/>
<circle cx="250.0" cy="62.2" r="0.5" fill="#b4b8d0" fill-opacity="0.35"/>
<circle cx="256.8" cy="62.6" r="0.5" fill="#b4b8d0" fill-opacity="0.35"/>
<circle cx="239.4" cy="74.4" r="0.5" fill="#b4b8d0" fill-opacity="0.35"/>
<circle cx="237.0" cy="73.1" r="0.5" fill="#b4b8d0" fill-opacity="0.35"/>
<circle cx="242.1" cy="68.1" r="0.5" fill="#b4b8d0" fill-opacity="0.35"/>
<circle cx="244.7" cy="61.0" r="0.5" fill="#b4b8d0" fill-opacity="0.35"/>
<circle cx="248.1" cy="63.8" r="0.5" fill="#b4b8d0" fill-opacity="0.35"/>
<circle cx="248.7" cy="64.0" r="0.5" fill="#b4b8d0" fill-opacity="0.35"/>
<circle cx="235.0" cy="76.7" r="0.5" fill="#b4b8d0" fill-opacity="0.35"/>
<circle cx="244.7" cy="67.9" r="0.5" fill="#b4b8d0" fill-opacity="0.35"/>
<circle cx="238.5" cy="72.5" r="0.5" fill="#b4b8d0" fill-opacity="0.35"/>
<circle cx="255.1" cy="59.1" r="0.5" fill="#b4b8d0" fill-opacity="0.35"/>
<circle cx="250.8" cy="65.8" r="0.5" fill="#b4b8d0" fill-opacity="0.35"/>
<circle cx="245.8" cy="69.4" r="0.5" fill="#b4b8d0" fill-opacity="0.35"/>
<circle cx="233.5" cy="75.6" r="0.5" fill="#b4b8d0" fill-opacity="0.35"/>
<circle cx="233.5" cy="79.6" r="0.5" fill="#b4b8d0" fill-opacity="0.35"/>
<circle cx="255.7" cy="57.5" r="0.5" fill="#b4b8d0" fill-opacity="0.35"/>
<circle cx="249.2" cy="61.3" r="0.5" fill="#b4b8d0" fill-opacity="0.35"/>
<circle cx="239.5" cy="80.5" r="0.5" fill="#b4b8d0" fill-opacity="0.35"/>
<circle cx="241.7" cy="74.5" r="0.5" fill="#b4b8d0" fill-opacity="0.35"/>
<circle cx="257.1" cy="56.0" r="0.5" fill="#b4b8d0" fill-opacity="0.35"/>
<circle cx="257.2" cy="53.6" r="0.5" fill="#b4b8d0" fill-opacity="0.35"/>
<circle cx="243.2" cy="69.1" r="0.5" fill="#b4b8d0" fill-opacity="0.35"/>
<circle cx="246.2" cy="68.4" r="0.5" fill="#b4b8d0" fill-opacity="0.35"/>
<circle cx="251.2" cy="60.4" r="0.5" fill="#b4b8d0" fill-opacity="0.35"/>
<circle cx="245.5" cy="68.3" r="0.5" fill="#b4b8d0" fill-opacity="0.35"/>
<circle cx="208.2" cy="101.9" r="0.45" fill="#a0a4c8" fill-opacity="0.4"/>
<circle cx="239.0" cy="101.5" r="0.45" fill="#a0a4c8" fill-opacity="0.4"/>
<circle cx="238.0" cy="101.7" r="0.45" fill="#a0a4c8" fill-opacity="0.4"/>
<circle cx="212.7" cy="102.2" r="0.45" fill="#a0a4c8" fill-opacity="0.4"/>
<circle cx="218.0" cy="102.2" r="0.45" fill="#a0a4c8" fill-opacity="0.4"/>
<circle cx="213.7" cy="101.6" r="0.45" fill="#a0a4c8" fill-opacity="0.4"/>
<circle cx="233.5" cy="102.5" r="0.45" fill="#a0a4c8" fill-opacity="0.4"/>
<circle cx="254.5" cy="100.7" r="0.45" fill="#a0a4c8" fill-opacity="0.4"/>
<circle cx="245.3" cy="101.8" r="0.45" fill="#a0a4c8" fill-opacity="0.4"/>
<circle cx="238.3" cy="102.6" r="0.45" fill="#a0a4c8" fill-opacity="0.4"/>
<circle cx="214.1" cy="101.7" r="0.45" fill="#a0a4c8" fill-opacity="0.4"/>
<circle cx="214.4" cy="102.3" r="0.45" fill="#a0a4c8" fill-opacity="0.4"/>
<circle cx="228.6" cy="102.3" r="0.45" fill="#a0a4c8" fill-opacity="0.4"/>
<circle cx="232.0" cy="102.0" r="0.45" fill="#a0a4c8" fill-opacity="0.4"/>
<circle cx="261.7" cy="101.3" r="0.45" fill="#a0a4c8" fill-opacity="0.4"/>
<circle cx="235.6" cy="102.3" r="0.45" fill="#a0a4c8" fill-opacity="0.4"/>
<circle cx="238.1" cy="102.3" r="0.45" fill="#a0a4c8" fill-opacity="0.4"/>
<circle cx="232.9" cy="102.4" r="0.45" fill="#a0a4c8" fill-opacity="0.4"/>
<circle cx="236.3" cy="102.4" r="0.45" fill="#a0a4c8" fill-opacity="0.4"/>
<circle cx="214.2" cy="102.0" r="0.45" fill="#a0a4c8" fill-opacity="0.4"/>
<circle cx="244.0" cy="102.0" r="0.45" fill="#a0a4c8" fill-opacity="0.4"/>
</g>
<line x1="227.5" y1="43.5" x2="227.5" y2="103.5" stroke="#d4b0de" stroke-width="0.7"/>
<line x1="202.5" y1="81.8" x2="264.3" y2="81.8" stroke="#e0a8cc" stroke-width="0.7"/>
<text x="209.5" y="52.83" font-size="5.8" fill="#1a1a1a" textLength="10.5" lengthAdjust="spacingAndGlyphs">45.6</text>
<text x="248.4" y="101.83" font-size="5.8" fill="#1a1a1a" textLength="10.8" lengthAdjust="spacingAndGlyphs">40.9</text>
<rect x="282.3" y="43.3" width="60.3" height="59.9" fill="none" stroke="#b8b8b8" stroke-width="0.9"/>
<text x="313" y="39.48" font-size="7.1" fill="#333" text-anchor="middle">miR-26a TuD</text>
<text x="271.7" y="105.4" font-size="5.6" font-weight="bold" fill="#4a4a4a">10<tspan font-size="3.2" dy="-2.6">0</tspan></text>
<line x1="281.1" y1="103.4" x2="282.3" y2="103.4" stroke="#888" stroke-width="0.6"/>
<text x="271.7" y="90.5" font-size="5.6" font-weight="bold" fill="#4a4a4a">10<tspan font-size="3.2" dy="-2.6">1</tspan></text>
<line x1="281.1" y1="88.5" x2="282.3" y2="88.5" stroke="#888" stroke-width="0.6"/>
<text x="271.7" y="75.3" font-size="5.6" font-weight="bold" fill="#4a4a4a">10<tspan font-size="3.2" dy="-2.6">2</tspan></text>
<line x1="281.1" y1="73.3" x2="282.3" y2="73.3" stroke="#888" stroke-width="0.6"/>
<text x="271.7" y="60.4" font-size="5.6" font-weight="bold" fill="#4a4a4a">10<tspan font-size="3.2" dy="-2.6">3</tspan></text>
<line x1="281.1" y1="58.4" x2="282.3" y2="58.4" stroke="#888" stroke-width="0.6"/>
<text x="271.7" y="46" font-size="5.6" font-weight="bold" fill="#4a4a4a">10<tspan font-size="3.2" dy="-2.6">4</tspan></text>
<line x1="281.1" y1="44" x2="282.3" y2="44" stroke="#888" stroke-width="0.6"/>
<text x="278.8" y="112.5" font-size="5.6" font-weight="bold" fill="#4a4a4a">10<tspan font-size="3.2" dy="-2.6">0</tspan></text>
<text x="293.88" y="112.5" font-size="5.6" font-weight="bold" fill="#4a4a4a">10<tspan font-size="3.2" dy="-2.6">1</tspan></text>
<text x="308.95" y="112.5" font-size="5.6" font-weight="bold" fill="#4a4a4a">10<tspan font-size="3.2" dy="-2.6">2</tspan></text>
<text x="324.03" y="112.5" font-size="5.6" font-weight="bold" fill="#4a4a4a">10<tspan font-size="3.2" dy="-2.6">3</tspan></text>
<text x="339.1" y="112.5" font-size="5.6" font-weight="bold" fill="#4a4a4a">10<tspan font-size="3.2" dy="-2.6">4</tspan></text>
<g filter="url(#blur)">
<circle cx="308.9" cy="72.5" r="0.6" fill="#8a98d8" fill-opacity="0.36"/>
<circle cx="298.2" cy="74.3" r="0.6" fill="#8a98d8" fill-opacity="0.36"/>
<circle cx="300.6" cy="70.9" r="0.6" fill="#8a98d8" fill-opacity="0.36"/>
<circle cx="293.7" cy="72.3" r="0.6" fill="#8a98d8" fill-opacity="0.36"/>
<circle cx="290.1" cy="72.1" r="0.6" fill="#8a98d8" fill-opacity="0.36"/>
<circle cx="293.2" cy="73.4" r="0.6" fill="#8a98d8" fill-opacity="0.36"/>
<circle cx="291.0" cy="74.9" r="0.6" fill="#8a98d8" fill-opacity="0.36"/>
<circle cx="293.0" cy="67.0" r="0.6" fill="#8a98d8" fill-opacity="0.36"/>
<circle cx="302.5" cy="73.1" r="0.6" fill="#8a98d8" fill-opacity="0.36"/>
<circle cx="291.9" cy="74.6" r="0.6" fill="#8a98d8" fill-opacity="0.36"/>
<circle cx="297.3" cy="74.1" r="0.6" fill="#8a98d8" fill-opacity="0.36"/>
<circle cx="291.3" cy="74.4" r="0.6" fill="#8a98d8" fill-opacity="0.36"/>
<circle cx="287.5" cy="77.2" r="0.6" fill="#8a98d8" fill-opacity="0.36"/>
<circle cx="289.0" cy="73.5" r="0.6" fill="#8a98d8" fill-opacity="0.36"/>
<circle cx="296.1" cy="74.5" r="0.6" fill="#8a98d8" fill-opacity="0.36"/>
<circle cx="294.6" cy="75.1" r="0.6" fill="#8a98d8" fill-opacity="0.36"/>
<circle cx="294.4" cy="72.8" r="0.6" fill="#8a98d8" fill-opacity="0.36"/>
<circle cx="303.7" cy="71.6" r="0.6" fill="#8a98d8" fill-opacity="0.36"/>
<circle cx="294.8" cy="69.2" r="0.6" fill="#8a98d8" fill-opacity="0.36"/>
<circle cx="296.8" cy="70.1" r="0.6" fill="#8a98d8" fill-opacity="0.36"/>
<circle cx="286.6" cy="78.9" r="0.6" fill="#8a98d8" fill-opacity="0.36"/>
<circle cx="299.2" cy="73.7" r="0.6" fill="#8a98d8" fill-opacity="0.36"/>
<circle cx="296.2" cy="70.5" r="0.6" fill="#8a98d8" fill-opacity="0.36"/>
<circle cx="289.4" cy="74.6" r="0.6" fill="#8a98d8" fill-opacity="0.36"/>
<circle cx="283.5" cy="74.3" r="0.6" fill="#8a98d8" fill-opacity="0.36"/>
<circle cx="285.6" cy="74.0" r="0.6" fill="#8a98d8" fill-opacity="0.36"/>
<circle cx="289.1" cy="77.6" r="0.6" fill="#8a98d8" fill-opacity="0.36"/>
<circle cx="300.9" cy="72.6" r="0.6" fill="#8a98d8" fill-opacity="0.36"/>
<circle cx="284.7" cy="72.0" r="0.6" fill="#8a98d8" fill-opacity="0.36"/>
<circle cx="295.0" cy="71.5" r="0.6" fill="#8a98d8" fill-opacity="0.36"/>
<circle cx="296.9" cy="75.9" r="0.6" fill="#8a98d8" fill-opacity="0.36"/>
<circle cx="295.0" cy="72.7" r="0.6" fill="#8a98d8" fill-opacity="0.36"/>
<circle cx="299.6" cy="73.0" r="0.6" fill="#8a98d8" fill-opacity="0.36"/>
<circle cx="300.0" cy="73.0" r="0.6" fill="#8a98d8" fill-opacity="0.36"/>
<circle cx="304.3" cy="73.1" r="0.6" fill="#8a98d8" fill-opacity="0.36"/>
<circle cx="289.4" cy="73.9" r="0.6" fill="#8a98d8" fill-opacity="0.36"/>
<circle cx="291.7" cy="71.6" r="0.6" fill="#8a98d8" fill-opacity="0.36"/>
<circle cx="294.6" cy="75.4" r="0.6" fill="#8a98d8" fill-opacity="0.36"/>
<circle cx="283.2" cy="73.6" r="0.6" fill="#8a98d8" fill-opacity="0.36"/>
<circle cx="294.4" cy="73.4" r="0.6" fill="#8a98d8" fill-opacity="0.36"/>
<circle cx="299.8" cy="70.8" r="0.6" fill="#8a98d8" fill-opacity="0.36"/>
<circle cx="299.0" cy="73.2" r="0.6" fill="#8a98d8" fill-opacity="0.36"/>
<circle cx="295.9" cy="73.2" r="0.6" fill="#8a98d8" fill-opacity="0.36"/>
<circle cx="293.5" cy="72.6" r="0.6" fill="#8a98d8" fill-opacity="0.36"/>
<circle cx="297.6" cy="78.4" r="0.6" fill="#8a98d8" fill-opacity="0.36"/>
<circle cx="301.3" cy="75.7" r="0.6" fill="#8a98d8" fill-opacity="0.36"/>
<circle cx="298.5" cy="72.7" r="0.6" fill="#8a98d8" fill-opacity="0.36"/>
<circle cx="298.8" cy="78.4" r="0.6" fill="#8a98d8" fill-opacity="0.36"/>
<circle cx="288.3" cy="75.6" r="0.6" fill="#8a98d8" fill-opacity="0.36"/>
<circle cx="301.1" cy="74.4" r="0.6" fill="#8a98d8" fill-opacity="0.36"/>
<circle cx="299.9" cy="76.9" r="0.6" fill="#8a98d8" fill-opacity="0.36"/>
<circle cx="307.9" cy="76.7" r="0.6" fill="#8a98d8" fill-opacity="0.36"/>
<circle cx="304.8" cy="74.6" r="0.6" fill="#8a98d8" fill-opacity="0.36"/>
<circle cx="300.2" cy="74.2" r="0.6" fill="#8a98d8" fill-opacity="0.36"/>
<circle cx="297.2" cy="72.8" r="0.6" fill="#8a98d8" fill-opacity="0.36"/>
<circle cx="299.4" cy="77.1" r="0.6" fill="#8a98d8" fill-opacity="0.36"/>
<circle cx="294.8" cy="74.4" r="0.6" fill="#8a98d8" fill-opacity="0.36"/>
<circle cx="299.1" cy="73.9" r="0.6" fill="#8a98d8" fill-opacity="0.36"/>
<circle cx="300.9" cy="74.5" r="0.6" fill="#8a98d8" fill-opacity="0.36"/>
<circle cx="289.2" cy="71.6" r="0.6" fill="#8a98d8" fill-opacity="0.36"/>
<circle cx="299.8" cy="75.3" r="0.6" fill="#8a98d8" fill-opacity="0.36"/>
<circle cx="301.9" cy="74.5" r="0.6" fill="#8a98d8" fill-opacity="0.36"/>
<circle cx="296.9" cy="70.4" r="0.6" fill="#8a98d8" fill-opacity="0.36"/>
<circle cx="303.5" cy="71.9" r="0.6" fill="#8a98d8" fill-opacity="0.36"/>
<circle cx="301.6" cy="71.4" r="0.6" fill="#8a98d8" fill-opacity="0.36"/>
<circle cx="292.1" cy="74.3" r="0.6" fill="#8a98d8" fill-opacity="0.36"/>
<circle cx="293.5" cy="72.4" r="0.6" fill="#8a98d8" fill-opacity="0.36"/>
<circle cx="300.8" cy="75.4" r="0.6" fill="#8a98d8" fill-opacity="0.36"/>
<circle cx="298.0" cy="73.2" r="0.6" fill="#8a98d8" fill-opacity="0.36"/>
<circle cx="291.3" cy="72.9" r="0.6" fill="#8a98d8" fill-opacity="0.36"/>
<circle cx="292.9" cy="73.9" r="0.6" fill="#8a98d8" fill-opacity="0.36"/>
<circle cx="300.1" cy="73.6" r="0.6" fill="#8a98d8" fill-opacity="0.36"/>
<circle cx="291.5" cy="72.6" r="0.6" fill="#8a98d8" fill-opacity="0.36"/>
<circle cx="303.0" cy="74.3" r="0.6" fill="#8a98d8" fill-opacity="0.36"/>
<circle cx="297.2" cy="74.6" r="0.6" fill="#8a98d8" fill-opacity="0.36"/>
<circle cx="299.2" cy="74.3" r="0.6" fill="#8a98d8" fill-opacity="0.36"/>
<circle cx="302.4" cy="75.8" r="0.6" fill="#8a98d8" fill-opacity="0.36"/>
<circle cx="312.3" cy="71.1" r="0.6" fill="#8a98d8" fill-opacity="0.36"/>
<circle cx="296.7" cy="76.4" r="0.6" fill="#8a98d8" fill-opacity="0.36"/>
<circle cx="296.0" cy="76.9" r="0.6" fill="#8a98d8" fill-opacity="0.36"/>
<circle cx="289.0" cy="71.2" r="0.6" fill="#8a98d8" fill-opacity="0.36"/>
<circle cx="294.9" cy="72.4" r="0.6" fill="#8a98d8" fill-opacity="0.36"/>
<circle cx="290.0" cy="75.3" r="0.6" fill="#8a98d8" fill-opacity="0.36"/>
<circle cx="297.5" cy="74.0" r="0.6" fill="#8a98d8" fill-opacity="0.36"/>
<circle cx="293.8" cy="74.6" r="0.6" fill="#8a98d8" fill-opacity="0.36"/>
<circle cx="295.3" cy="72.4" r="0.6" fill="#8a98d8" fill-opacity="0.36"/>
<circle cx="298.8" cy="74.8" r="0.6" fill="#8a98d8" fill-opacity="0.36"/>
<circle cx="296.4" cy="75.5" r="0.6" fill="#8a98d8" fill-opacity="0.36"/>
<circle cx="289.9" cy="73.7" r="0.6" fill="#8a98d8" fill-opacity="0.36"/>
<circle cx="293.1" cy="76.9" r="0.6" fill="#8a98d8" fill-opacity="0.36"/>
<circle cx="298.8" cy="78.7" r="0.6" fill="#8a98d8" fill-opacity="0.36"/>
<circle cx="304.6" cy="73.2" r="0.6" fill="#8a98d8" fill-opacity="0.36"/>
<circle cx="290.0" cy="75.1" r="0.6" fill="#8a98d8" fill-opacity="0.36"/>
<circle cx="294.4" cy="73.7" r="0.6" fill="#8a98d8" fill-opacity="0.36"/>
<circle cx="290.2" cy="75.3" r="0.6" fill="#8a98d8" fill-opacity="0.36"/>
<circle cx="297.0" cy="74.9" r="0.6" fill="#8a98d8" fill-opacity="0.36"/>
<circle cx="297.7" cy="72.0" r="0.6" fill="#8a98d8" fill-opacity="0.36"/>
<circle cx="283.7" cy="73.4" r="0.6" fill="#8a98d8" fill-opacity="0.36"/>
<circle cx="292.5" cy="72.8" r="0.6" fill="#8a98d8" fill-opacity="0.36"/>
<circle cx="301.3" cy="73.8" r="0.6" fill="#8a98d8" fill-opacity="0.36"/>
<circle cx="304.3" cy="74.4" r="0.6" fill="#8a98d8" fill-opacity="0.36"/>
<circle cx="299.8" cy="75.1" r="0.6" fill="#8a98d8" fill-opacity="0.36"/>
<circle cx="300.4" cy="71.2" r="0.6" fill="#8a98d8" fill-opacity="0.36"/>
<circle cx="302.0" cy="74.2" r="0.6" fill="#8a98d8" fill-opacity="0.36"/>
<circle cx="290.6" cy="75.4" r="0.6" fill="#8a98d8" fill-opacity="0.36"/>
<circle cx="297.9" cy="76.8" r="0.6" fill="#8a98d8" fill-opacity="0.36"/>
<circle cx="300.0" cy="74.8" r="0.6" fill="#8a98d8" fill-opacity="0.36"/>
<circle cx="287.0" cy="77.7" r="0.6" fill="#8a98d8" fill-opacity="0.36"/>
<circle cx="304.2" cy="75.7" r="0.6" fill="#8a98d8" fill-opacity="0.36"/>
<circle cx="298.5" cy="76.7" r="0.6" fill="#8a98d8" fill-opacity="0.36"/>
<circle cx="291.2" cy="75.5" r="0.6" fill="#8a98d8" fill-opacity="0.36"/>
<circle cx="296.1" cy="71.8" r="0.6" fill="#8a98d8" fill-opacity="0.36"/>
<circle cx="298.0" cy="74.8" r="0.6" fill="#8a98d8" fill-opacity="0.36"/>
<circle cx="305.4" cy="76.1" r="0.6" fill="#8a98d8" fill-opacity="0.36"/>
<circle cx="287.2" cy="69.7" r="0.6" fill="#8a98d8" fill-opacity="0.36"/>
<circle cx="295.6" cy="73.5" r="0.6" fill="#8a98d8" fill-opacity="0.36"/>
<circle cx="290.9" cy="70.8" r="0.6" fill="#8a98d8" fill-opacity="0.36"/>
<circle cx="294.9" cy="71.5" r="0.6" fill="#8a98d8" fill-opacity="0.36"/>
<circle cx="312.5" cy="96.3" r="0.6" fill="#5a7acc" fill-opacity="0.4"/>
<circle cx="313.9" cy="88.2" r="0.6" fill="#5a7acc" fill-opacity="0.4"/>
<circle cx="311.8" cy="91.1" r="0.6" fill="#5a7acc" fill-opacity="0.4"/>
<circle cx="316.1" cy="89.5" r="0.6" fill="#5a7acc" fill-opacity="0.4"/>
<circle cx="316.1" cy="88.1" r="0.6" fill="#5a7acc" fill-opacity="0.4"/>
<circle cx="313.2" cy="95.5" r="0.6" fill="#5a7acc" fill-opacity="0.4"/>
<circle cx="312.3" cy="92.3" r="0.6" fill="#5a7acc" fill-opacity="0.4"/>
<circle cx="311.5" cy="95.3" r="0.6" fill="#5a7acc" fill-opacity="0.4"/>
<circle cx="315.2" cy="88.7" r="0.6" fill="#5a7acc" fill-opacity="0.4"/>
<circle cx="313.8" cy="90.0" r="0.6" fill="#5a7acc" fill-opacity="0.4"/>
<circle cx="314.4" cy="96.1" r="0.6" fill="#5a7acc" fill-opacity="0.4"/>
<circle cx="314.1" cy="92.9" r="0.6" fill="#5a7acc" fill-opacity="0.4"/>
<circle cx="317.1" cy="82.9" r="0.6" fill="#5a7acc" fill-opacity="0.4"/>
<circle cx="313.0" cy="89.9" r="0.6" fill="#5a7acc" fill-opacity="0.4"/>
<circle cx="313.2" cy="95.5" r="0.6" fill="#5a7acc" fill-opacity="0.4"/>
<circle cx="312.4" cy="85.4" r="0.6" fill="#5a7acc" fill-opacity="0.4"/>
<circle cx="311.8" cy="94.3" r="0.6" fill="#5a7acc" fill-opacity="0.4"/>
<circle cx="314.9" cy="96.0" r="0.6" fill="#5a7acc" fill-opacity="0.4"/>
<circle cx="315.9" cy="89.4" r="0.6" fill="#5a7acc" fill-opacity="0.4"/>
<circle cx="315.0" cy="95.4" r="0.6" fill="#5a7acc" fill-opacity="0.4"/>
<circle cx="313.3" cy="88.2" r="0.6" fill="#5a7acc" fill-opacity="0.4"/>
<circle cx="314.8" cy="88.6" r="0.6" fill="#5a7acc" fill-opacity="0.4"/>
<circle cx="313.1" cy="87.1" r="0.6" fill="#5a7acc" fill-opacity="0.4"/>
<circle cx="316.1" cy="91.7" r="0.6" fill="#5a7acc" fill-opacity="0.4"/>
<circle cx="312.7" cy="90.8" r="0.6" fill="#5a7acc" fill-opacity="0.4"/>
<circle cx="313.2" cy="92.4" r="0.6" fill="#5a7acc" fill-opacity="0.4"/>
<circle cx="310.9" cy="86.2" r="0.6" fill="#5a7acc" fill-opacity="0.4"/>
<circle cx="314.3" cy="97.4" r="0.6" fill="#5a7acc" fill-opacity="0.4"/>
<circle cx="312.0" cy="92.6" r="0.6" fill="#5a7acc" fill-opacity="0.4"/>
<circle cx="312.6" cy="80.6" r="0.6" fill="#5a7acc" fill-opacity="0.4"/>
<circle cx="313.0" cy="86.6" r="0.6" fill="#5a7acc" fill-opacity="0.4"/>
<circle cx="314.8" cy="90.9" r="0.6" fill="#5a7acc" fill-opacity="0.4"/>
<circle cx="313.4" cy="84.7" r="0.6" fill="#5a7acc" fill-opacity="0.4"/>
<circle cx="313.7" cy="82.3" r="0.6" fill="#5a7acc" fill-opacity="0.4"/>
<circle cx="313.8" cy="98.9" r="0.6" fill="#5a7acc" fill-opacity="0.4"/>
<circle cx="311.7" cy="96.3" r="0.6" fill="#5a7acc" fill-opacity="0.4"/>
<circle cx="315.6" cy="91.0" r="0.6" fill="#5a7acc" fill-opacity="0.4"/>
<circle cx="315.2" cy="92.4" r="0.6" fill="#5a7acc" fill-opacity="0.4"/>
<circle cx="312.8" cy="81.9" r="0.6" fill="#5a7acc" fill-opacity="0.4"/>
<circle cx="311.9" cy="84.6" r="0.6" fill="#5a7acc" fill-opacity="0.4"/>
<circle cx="317.1" cy="93.3" r="0.6" fill="#5a7acc" fill-opacity="0.4"/>
<circle cx="313.2" cy="85.2" r="0.6" fill="#5a7acc" fill-opacity="0.4"/>
<circle cx="316.1" cy="86.2" r="0.6" fill="#5a7acc" fill-opacity="0.4"/>
<circle cx="315.7" cy="97.4" r="0.6" fill="#5a7acc" fill-opacity="0.4"/>
<circle cx="313.6" cy="88.7" r="0.6" fill="#5a7acc" fill-opacity="0.4"/>
<circle cx="313.4" cy="85.4" r="0.6" fill="#5a7acc" fill-opacity="0.4"/>
<circle cx="314.5" cy="100.4" r="0.6" fill="#5a7acc" fill-opacity="0.4"/>
<circle cx="314.8" cy="97.2" r="0.6" fill="#5a7acc" fill-opacity="0.4"/>
<circle cx="312.4" cy="93.5" r="0.6" fill="#5a7acc" fill-opacity="0.4"/>
<circle cx="312.0" cy="89.7" r="0.6" fill="#5a7acc" fill-opacity="0.4"/>
<circle cx="313.6" cy="92.2" r="0.6" fill="#5a7acc" fill-opacity="0.4"/>
<circle cx="310.7" cy="92.9" r="0.6" fill="#5a7acc" fill-opacity="0.4"/>
<circle cx="312.1" cy="85.0" r="0.6" fill="#5a7acc" fill-opacity="0.4"/>
<circle cx="311.3" cy="92.7" r="0.6" fill="#5a7acc" fill-opacity="0.4"/>
<circle cx="312.9" cy="95.4" r="0.6" fill="#5a7acc" fill-opacity="0.4"/>
<circle cx="313.1" cy="92.0" r="0.6" fill="#5a7acc" fill-opacity="0.4"/>
<circle cx="315.7" cy="96.0" r="0.6" fill="#5a7acc" fill-opacity="0.4"/>
<circle cx="314.7" cy="99.4" r="0.6" fill="#5a7acc" fill-opacity="0.4"/>
<circle cx="313.8" cy="87.0" r="0.6" fill="#5a7acc" fill-opacity="0.4"/>
<circle cx="312.3" cy="84.2" r="0.6" fill="#5a7acc" fill-opacity="0.4"/>
<circle cx="314.0" cy="90.0" r="0.6" fill="#5a7acc" fill-opacity="0.4"/>
<circle cx="314.3" cy="96.2" r="0.6" fill="#5a7acc" fill-opacity="0.4"/>
<circle cx="312.3" cy="92.9" r="0.6" fill="#5a7acc" fill-opacity="0.4"/>
<circle cx="315.4" cy="92.4" r="0.6" fill="#5a7acc" fill-opacity="0.4"/>
<circle cx="314.9" cy="91.0" r="0.6" fill="#5a7acc" fill-opacity="0.4"/>
<circle cx="312.1" cy="90.8" r="0.6" fill="#5a7acc" fill-opacity="0.4"/>
<circle cx="310.7" cy="95.6" r="0.6" fill="#5a7acc" fill-opacity="0.4"/>
<circle cx="312.7" cy="98.8" r="0.6" fill="#5a7acc" fill-opacity="0.4"/>
<circle cx="311.6" cy="92.6" r="0.6" fill="#5a7acc" fill-opacity="0.4"/>
<circle cx="314.0" cy="91.0" r="0.6" fill="#5a7acc" fill-opacity="0.4"/>
<circle cx="314.1" cy="88.2" r="0.6" fill="#5a7acc" fill-opacity="0.4"/>
<circle cx="311.9" cy="84.9" r="0.6" fill="#5a7acc" fill-opacity="0.4"/>
<circle cx="312.6" cy="87.9" r="0.6" fill="#5a7acc" fill-opacity="0.4"/>
<circle cx="313.9" cy="90.1" r="0.6" fill="#5a7acc" fill-opacity="0.4"/>
<circle cx="312.5" cy="88.3" r="0.6" fill="#5a7acc" fill-opacity="0.4"/>
<circle cx="310.6" cy="90.1" r="0.6" fill="#5a7acc" fill-opacity="0.4"/>
<circle cx="314.1" cy="85.3" r="0.6" fill="#5a7acc" fill-opacity="0.4"/>
<circle cx="313.1" cy="95.4" r="0.6" fill="#5a7acc" fill-opacity="0.4"/>
<circle cx="312.4" cy="93.0" r="0.6" fill="#5a7acc" fill-opacity="0.4"/>
<circle cx="315.6" cy="98.0" r="0.6" fill="#5a7acc" fill-opacity="0.4"/>
<circle cx="312.5" cy="95.3" r="0.6" fill="#5a7acc" fill-opacity="0.4"/>
<circle cx="313.2" cy="93.8" r="0.6" fill="#5a7acc" fill-opacity="0.4"/>
<circle cx="312.6" cy="92.8" r="0.6" fill="#5a7acc" fill-opacity="0.4"/>
<circle cx="312.3" cy="93.5" r="0.6" fill="#5a7acc" fill-opacity="0.4"/>
<circle cx="316.2" cy="85.1" r="0.6" fill="#5a7acc" fill-opacity="0.4"/>
<circle cx="311.5" cy="94.5" r="0.6" fill="#5a7acc" fill-opacity="0.4"/>
<circle cx="314.7" cy="90.1" r="0.6" fill="#5a7acc" fill-opacity="0.4"/>
<circle cx="314.4" cy="94.2" r="0.6" fill="#5a7acc" fill-opacity="0.4"/>
<circle cx="314.3" cy="99.0" r="0.6" fill="#5a7acc" fill-opacity="0.4"/>
<circle cx="312.5" cy="95.3" r="0.6" fill="#5a7acc" fill-opacity="0.4"/>
<circle cx="313.8" cy="88.5" r="0.6" fill="#5a7acc" fill-opacity="0.4"/>
<circle cx="314.3" cy="85.4" r="0.6" fill="#5a7acc" fill-opacity="0.4"/>
<circle cx="311.2" cy="97.5" r="0.6" fill="#5a7acc" fill-opacity="0.4"/>
<circle cx="311.8" cy="100.6" r="0.6" fill="#5a7acc" fill-opacity="0.4"/>
<circle cx="315.1" cy="89.3" r="0.6" fill="#5a7acc" fill-opacity="0.4"/>
<circle cx="312.2" cy="80.7" r="0.6" fill="#5a7acc" fill-opacity="0.4"/>
<circle cx="313.4" cy="83.7" r="0.6" fill="#5a7acc" fill-opacity="0.4"/>
<circle cx="315.9" cy="83.4" r="0.6" fill="#5a7acc" fill-opacity="0.4"/>
<circle cx="313.6" cy="78.1" r="0.6" fill="#5a7acc" fill-opacity="0.4"/>
<circle cx="313.0" cy="98.7" r="0.6" fill="#5a7acc" fill-opacity="0.4"/>
<circle cx="312.8" cy="87.8" r="0.6" fill="#5a7acc" fill-opacity="0.4"/>
<circle cx="312.8" cy="93.9" r="0.6" fill="#5a7acc" fill-opacity="0.4"/>
<circle cx="314.9" cy="90.8" r="0.6" fill="#5a7acc" fill-opacity="0.4"/>
<circle cx="310.4" cy="93.5" r="0.6" fill="#5a7acc" fill-opacity="0.4"/>
<circle cx="313.7" cy="92.9" r="0.6" fill="#5a7acc" fill-opacity="0.4"/>
<circle cx="312.7" cy="95.8" r="0.6" fill="#5a7acc" fill-opacity="0.4"/>
<circle cx="316.2" cy="86.9" r="0.6" fill="#5a7acc" fill-opacity="0.4"/>
<circle cx="313.6" cy="86.7" r="0.6" fill="#5a7acc" fill-opacity="0.4"/>
<circle cx="312.4" cy="91.0" r="0.6" fill="#5a7acc" fill-opacity="0.4"/>
<circle cx="314.2" cy="87.7" r="0.6" fill="#5a7acc" fill-opacity="0.4"/>
<circle cx="313.0" cy="99.0" r="0.6" fill="#5a7acc" fill-opacity="0.4"/>
<circle cx="314.3" cy="95.5" r="0.6" fill="#5a7acc" fill-opacity="0.4"/>
<circle cx="314.1" cy="91.0" r="0.6" fill="#5a7acc" fill-opacity="0.4"/>
<circle cx="314.1" cy="94.6" r="0.6" fill="#5a7acc" fill-opacity="0.4"/>
<circle cx="313.5" cy="97.2" r="0.6" fill="#5a7acc" fill-opacity="0.4"/>
<circle cx="313.5" cy="96.6" r="0.6" fill="#5a7acc" fill-opacity="0.4"/>
<circle cx="313.5" cy="95.7" r="0.6" fill="#5a7acc" fill-opacity="0.4"/>
<circle cx="312.5" cy="89.1" r="0.6" fill="#5a7acc" fill-opacity="0.4"/>
<circle cx="311.7" cy="98.1" r="0.6" fill="#5a7acc" fill-opacity="0.4"/>
<circle cx="314.3" cy="93.1" r="0.6" fill="#5a7acc" fill-opacity="0.4"/>
<circle cx="314.4" cy="87.7" r="0.6" fill="#5a7acc" fill-opacity="0.4"/>
<circle cx="313.6" cy="89.4" r="0.6" fill="#5a7acc" fill-opacity="0.4"/>
<circle cx="310.6" cy="90.6" r="0.6" fill="#5a7acc" fill-opacity="0.4"/>
<circle cx="312.2" cy="99.3" r="0.6" fill="#5a7acc" fill-opacity="0.4"/>
<circle cx="312.3" cy="88.8" r="0.6" fill="#5a7acc" fill-opacity="0.4"/>
<circle cx="315.0" cy="91.9" r="0.6" fill="#5a7acc" fill-opacity="0.4"/>
<circle cx="311.4" cy="93.1" r="0.6" fill="#5a7acc" fill-opacity="0.4"/>
<circle cx="312.3" cy="100.7" r="0.6" fill="#5a7acc" fill-opacity="0.4"/>
<circle cx="311.9" cy="88.2" r="0.6" fill="#5a7acc" fill-opacity="0.4"/>
<circle cx="309.3" cy="88.5" r="0.6" fill="#5a7acc" fill-opacity="0.4"/>
<circle cx="316.4" cy="91.3" r="0.6" fill="#5a7acc" fill-opacity="0.4"/>
<circle cx="312.0" cy="93.5" r="0.6" fill="#5a7acc" fill-opacity="0.4"/>
<circle cx="313.0" cy="91.8" r="0.6" fill="#5a7acc" fill-opacity="0.4"/>
<circle cx="317.3" cy="102.3" r="0.6" fill="#5a7acc" fill-opacity="0.4"/>
<circle cx="315.9" cy="100.5" r="0.6" fill="#5a7acc" fill-opacity="0.4"/>
<circle cx="312.1" cy="82.0" r="0.6" fill="#5a7acc" fill-opacity="0.4"/>
<circle cx="314.6" cy="94.0" r="0.6" fill="#5a7acc" fill-opacity="0.4"/>
<circle cx="313.6" cy="91.4" r="0.6" fill="#5a7acc" fill-opacity="0.4"/>
<circle cx="314.6" cy="94.9" r="0.6" fill="#5a7acc" fill-opacity="0.4"/>
<circle cx="313.9" cy="94.5" r="0.6" fill="#5a7acc" fill-opacity="0.4"/>
<circle cx="313.2" cy="90.1" r="0.6" fill="#5a7acc" fill-opacity="0.4"/>
<circle cx="315.6" cy="90.7" r="0.6" fill="#5a7acc" fill-opacity="0.4"/>
<circle cx="316.6" cy="95.3" r="0.6" fill="#5a7acc" fill-opacity="0.4"/>
<circle cx="313.6" cy="97.7" r="0.6" fill="#5a7acc" fill-opacity="0.4"/>
<circle cx="312.7" cy="91.0" r="0.6" fill="#5a7acc" fill-opacity="0.4"/>
<circle cx="313.0" cy="92.0" r="0.6" fill="#5a7acc" fill-opacity="0.4"/>
<circle cx="314.3" cy="86.5" r="0.6" fill="#5a7acc" fill-opacity="0.4"/>
<circle cx="312.2" cy="82.7" r="0.6" fill="#5a7acc" fill-opacity="0.4"/>
<circle cx="314.6" cy="96.5" r="0.6" fill="#5a7acc" fill-opacity="0.4"/>
<circle cx="314.0" cy="93.8" r="0.6" fill="#5a7acc" fill-opacity="0.4"/>
<circle cx="314.3" cy="94.2" r="0.6" fill="#5a7acc" fill-opacity="0.4"/>
<circle cx="314.5" cy="93.1" r="0.6" fill="#5a7acc" fill-opacity="0.4"/>
<circle cx="312.0" cy="96.8" r="0.6" fill="#5a7acc" fill-opacity="0.4"/>
<circle cx="315.5" cy="83.6" r="0.6" fill="#5a7acc" fill-opacity="0.4"/>
<circle cx="313.1" cy="86.2" r="0.6" fill="#5a7acc" fill-opacity="0.4"/>
<circle cx="314.3" cy="90.5" r="0.6" fill="#5a7acc" fill-opacity="0.4"/>
<circle cx="315.7" cy="97.7" r="0.6" fill="#5a7acc" fill-opacity="0.4"/>
<circle cx="312.8" cy="89.5" r="0.6" fill="#5a7acc" fill-opacity="0.4"/>
<circle cx="312.6" cy="94.9" r="0.6" fill="#5a7acc" fill-opacity="0.4"/>
<circle cx="312.1" cy="94.2" r="0.6" fill="#5a7acc" fill-opacity="0.4"/>
<circle cx="311.3" cy="97.3" r="0.6" fill="#5a7acc" fill-opacity="0.4"/>
<circle cx="314.2" cy="86.0" r="0.6" fill="#5a7acc" fill-opacity="0.4"/>
<circle cx="312.3" cy="92.7" r="0.6" fill="#5a7acc" fill-opacity="0.4"/>
<circle cx="313.9" cy="77.3" r="0.6" fill="#5a7acc" fill-opacity="0.4"/>
<circle cx="313.8" cy="99.7" r="0.6" fill="#5a7acc" fill-opacity="0.4"/>
<circle cx="312.8" cy="85.0" r="0.6" fill="#5a7acc" fill-opacity="0.4"/>
<circle cx="315.4" cy="93.2" r="0.6" fill="#5a7acc" fill-opacity="0.4"/>
<circle cx="313.8" cy="95.1" r="0.6" fill="#5a7acc" fill-opacity="0.4"/>
<circle cx="311.6" cy="88.5" r="0.6" fill="#5a7acc" fill-opacity="0.4"/>
<circle cx="311.8" cy="86.2" r="0.6" fill="#5a7acc" fill-opacity="0.4"/>
<circle cx="313.0" cy="86.6" r="0.6" fill="#5a7acc" fill-opacity="0.4"/>
<circle cx="316.0" cy="94.5" r="0.6" fill="#5a7acc" fill-opacity="0.4"/>
<circle cx="314.8" cy="83.5" r="0.6" fill="#5a7acc" fill-opacity="0.4"/>
<circle cx="313.2" cy="91.2" r="0.6" fill="#5a7acc" fill-opacity="0.4"/>
<circle cx="313.7" cy="94.3" r="0.6" fill="#5a7acc" fill-opacity="0.4"/>
<circle cx="312.3" cy="87.3" r="0.6" fill="#5a7acc" fill-opacity="0.4"/>
<circle cx="316.7" cy="90.5" r="0.6" fill="#5a7acc" fill-opacity="0.4"/>
<circle cx="312.3" cy="92.9" r="0.6" fill="#5a7acc" fill-opacity="0.4"/>
<circle cx="314.2" cy="101.0" r="0.6" fill="#5a7acc" fill-opacity="0.4"/>
<circle cx="313.1" cy="88.2" r="0.6" fill="#5a7acc" fill-opacity="0.4"/>
<circle cx="315.1" cy="88.3" r="0.6" fill="#5a7acc" fill-opacity="0.4"/>
<circle cx="312.2" cy="94.7" r="0.6" fill="#5a7acc" fill-opacity="0.4"/>
<circle cx="313.2" cy="86.6" r="0.6" fill="#5a7acc" fill-opacity="0.4"/>
<circle cx="313.1" cy="89.9" r="0.6" fill="#5a7acc" fill-opacity="0.4"/>
<circle cx="313.1" cy="88.2" r="0.6" fill="#5a7acc" fill-opacity="0.4"/>
<circle cx="314.4" cy="90.1" r="0.6" fill="#5a7acc" fill-opacity="0.4"/>
<circle cx="312.6" cy="97.4" r="0.6" fill="#5a7acc" fill-opacity="0.4"/>
<circle cx="312.1" cy="95.8" r="0.6" fill="#5a7acc" fill-opacity="0.4"/>
<circle cx="314.4" cy="90.5" r="0.6" fill="#5a7acc" fill-opacity="0.4"/>
<circle cx="313.8" cy="84.4" r="0.6" fill="#5a7acc" fill-opacity="0.4"/>
<circle cx="313.9" cy="86.7" r="0.6" fill="#5a7acc" fill-opacity="0.4"/>
<circle cx="312.2" cy="93.3" r="0.6" fill="#5a7acc" fill-opacity="0.4"/>
<circle cx="312.4" cy="92.6" r="0.6" fill="#5a7acc" fill-opacity="0.4"/>
<circle cx="314.1" cy="97.3" r="0.6" fill="#5a7acc" fill-opacity="0.4"/>
<circle cx="314.1" cy="97.3" r="0.6" fill="#5a7acc" fill-opacity="0.4"/>
<circle cx="312.3" cy="90.1" r="0.6" fill="#5a7acc" fill-opacity="0.4"/>
<circle cx="314.5" cy="98.0" r="0.6" fill="#5a7acc" fill-opacity="0.4"/>
<circle cx="314.2" cy="89.3" r="0.6" fill="#5a7acc" fill-opacity="0.4"/>
<circle cx="311.9" cy="87.1" r="0.6" fill="#5a7acc" fill-opacity="0.4"/>
<circle cx="315.2" cy="87.0" r="0.6" fill="#5a7acc" fill-opacity="0.4"/>
<circle cx="313.1" cy="95.2" r="0.6" fill="#5a7acc" fill-opacity="0.4"/>
<circle cx="314.2" cy="88.4" r="0.6" fill="#5a7acc" fill-opacity="0.4"/>
<circle cx="316.5" cy="92.8" r="0.6" fill="#5a7acc" fill-opacity="0.4"/>
<circle cx="313.9" cy="96.1" r="0.6" fill="#5a7acc" fill-opacity="0.4"/>
<circle cx="313.0" cy="95.5" r="0.6" fill="#5a7acc" fill-opacity="0.4"/>
<circle cx="313.3" cy="87.5" r="0.6" fill="#5a7acc" fill-opacity="0.4"/>
<circle cx="312.0" cy="93.9" r="0.6" fill="#5a7acc" fill-opacity="0.4"/>
<circle cx="313.6" cy="91.2" r="0.6" fill="#5a7acc" fill-opacity="0.4"/>
<circle cx="312.8" cy="90.7" r="0.6" fill="#5a7acc" fill-opacity="0.4"/>
<circle cx="314.7" cy="97.5" r="0.6" fill="#5a7acc" fill-opacity="0.4"/>
<circle cx="313.1" cy="93.3" r="0.6" fill="#5a7acc" fill-opacity="0.4"/>
<circle cx="310.7" cy="86.2" r="0.6" fill="#5a7acc" fill-opacity="0.4"/>
<circle cx="312.4" cy="87.4" r="0.6" fill="#5a7acc" fill-opacity="0.4"/>
<circle cx="314.5" cy="81.4" r="0.6" fill="#5a7acc" fill-opacity="0.4"/>
<circle cx="314.2" cy="95.4" r="0.6" fill="#5a7acc" fill-opacity="0.4"/>
<circle cx="316.8" cy="89.5" r="0.6" fill="#5a7acc" fill-opacity="0.4"/>
<circle cx="314.2" cy="99.5" r="0.6" fill="#5a7acc" fill-opacity="0.4"/>
<circle cx="314.9" cy="87.2" r="0.6" fill="#5a7acc" fill-opacity="0.4"/>
<circle cx="313.0" cy="86.2" r="0.6" fill="#5a7acc" fill-opacity="0.4"/>
<circle cx="313.6" cy="95.4" r="0.6" fill="#5a7acc" fill-opacity="0.4"/>
<circle cx="315.6" cy="94.8" r="0.6" fill="#5a7acc" fill-opacity="0.4"/>
<circle cx="314.8" cy="97.3" r="0.6" fill="#5a7acc" fill-opacity="0.4"/>
<circle cx="312.3" cy="95.4" r="0.6" fill="#5a7acc" fill-opacity="0.4"/>
<circle cx="315.0" cy="91.1" r="0.6" fill="#5a7acc" fill-opacity="0.4"/>
<circle cx="312.1" cy="92.8" r="0.6" fill="#5a7acc" fill-opacity="0.4"/>
<circle cx="313.7" cy="95.5" r="0.6" fill="#5a7acc" fill-opacity="0.4"/>
<circle cx="310.8" cy="90.1" r="0.6" fill="#5a7acc" fill-opacity="0.4"/>
<circle cx="316.6" cy="98.5" r="0.6" fill="#5a7acc" fill-opacity="0.4"/>
<circle cx="313.3" cy="90.5" r="0.6" fill="#5a7acc" fill-opacity="0.4"/>
<circle cx="313.1" cy="87.1" r="0.6" fill="#5a7acc" fill-opacity="0.4"/>
<circle cx="312.8" cy="91.8" r="0.6" fill="#5a7acc" fill-opacity="0.4"/>
<circle cx="311.7" cy="91.6" r="0.6" fill="#5a7acc" fill-opacity="0.4"/>
<circle cx="313.9" cy="85.5" r="0.6" fill="#5a7acc" fill-opacity="0.4"/>
<circle cx="312.8" cy="84.2" r="0.6" fill="#5a7acc" fill-opacity="0.4"/>
<circle cx="296.3" cy="89.3" r="0.5" fill="#a8b0e0" fill-opacity="0.3"/>
<circle cx="291.8" cy="88.4" r="0.5" fill="#a8b0e0" fill-opacity="0.3"/>
<circle cx="300.4" cy="92.1" r="0.5" fill="#a8b0e0" fill-opacity="0.3"/>
<circle cx="285.2" cy="86.1" r="0.5" fill="#a8b0e0" fill-opacity="0.3"/>
<circle cx="284.4" cy="76.6" r="0.5" fill="#a8b0e0" fill-opacity="0.3"/>
<circle cx="304.2" cy="92.6" r="0.5" fill="#a8b0e0" fill-opacity="0.3"/>
<circle cx="306.2" cy="92.6" r="0.5" fill="#a8b0e0" fill-opacity="0.3"/>
<circle cx="291.9" cy="89.3" r="0.5" fill="#a8b0e0" fill-opacity="0.3"/>
<circle cx="291.6" cy="96.2" r="0.5" fill="#a8b0e0" fill-opacity="0.3"/>
<circle cx="291.5" cy="92.3" r="0.5" fill="#a8b0e0" fill-opacity="0.3"/>
<circle cx="305.7" cy="84.2" r="0.5" fill="#a8b0e0" fill-opacity="0.3"/>
<circle cx="307.0" cy="94.5" r="0.5" fill="#a8b0e0" fill-opacity="0.3"/>
<circle cx="283.3" cy="99.0" r="0.5" fill="#a8b0e0" fill-opacity="0.3"/>
<circle cx="286.5" cy="79.8" r="0.5" fill="#a8b0e0" fill-opacity="0.3"/>
<circle cx="303.6" cy="83.6" r="0.5" fill="#a8b0e0" fill-opacity="0.3"/>
<circle cx="297.8" cy="87.7" r="0.5" fill="#a8b0e0" fill-opacity="0.3"/>
<circle cx="287.8" cy="97.6" r="0.5" fill="#a8b0e0" fill-opacity="0.3"/>
<circle cx="307.9" cy="88.5" r="0.5" fill="#a8b0e0" fill-opacity="0.3"/>
<circle cx="308.7" cy="88.0" r="0.5" fill="#a8b0e0" fill-opacity="0.3"/>
<circle cx="298.1" cy="86.2" r="0.5" fill="#a8b0e0" fill-opacity="0.3"/>
<circle cx="285.4" cy="85.9" r="0.5" fill="#a8b0e0" fill-opacity="0.3"/>
<circle cx="288.3" cy="90.5" r="0.5" fill="#a8b0e0" fill-opacity="0.3"/>
<circle cx="297.2" cy="84.5" r="0.5" fill="#a8b0e0" fill-opacity="0.3"/>
<circle cx="306.3" cy="90.2" r="0.5" fill="#a8b0e0" fill-opacity="0.3"/>
<circle cx="310.7" cy="85.6" r="0.5" fill="#a8b0e0" fill-opacity="0.3"/>
<circle cx="292.9" cy="83.6" r="0.5" fill="#a8b0e0" fill-opacity="0.3"/>
<circle cx="297.9" cy="87.0" r="0.5" fill="#a8b0e0" fill-opacity="0.3"/>
<circle cx="296.3" cy="98.6" r="0.5" fill="#a8b0e0" fill-opacity="0.3"/>
<circle cx="302.4" cy="84.3" r="0.5" fill="#a8b0e0" fill-opacity="0.3"/>
<circle cx="299.3" cy="86.4" r="0.5" fill="#a8b0e0" fill-opacity="0.3"/>
<circle cx="293.5" cy="86.7" r="0.5" fill="#a8b0e0" fill-opacity="0.3"/>
<circle cx="296.5" cy="91.9" r="0.5" fill="#a8b0e0" fill-opacity="0.3"/>
<circle cx="304.1" cy="88.2" r="0.5" fill="#a8b0e0" fill-opacity="0.3"/>
<circle cx="289.5" cy="88.0" r="0.5" fill="#a8b0e0" fill-opacity="0.3"/>
<circle cx="294.5" cy="86.4" r="0.5" fill="#a8b0e0" fill-opacity="0.3"/>
<circle cx="286.3" cy="87.2" r="0.5" fill="#a8b0e0" fill-opacity="0.3"/>
<circle cx="301.9" cy="92.5" r="0.5" fill="#a8b0e0" fill-opacity="0.3"/>
<circle cx="288.5" cy="89.4" r="0.5" fill="#a8b0e0" fill-opacity="0.3"/>
<circle cx="306.3" cy="86.7" r="0.5" fill="#a8b0e0" fill-opacity="0.3"/>
<circle cx="287.4" cy="87.3" r="0.5" fill="#a8b0e0" fill-opacity="0.3"/>
<circle cx="299.5" cy="79.7" r="0.5" fill="#a8b0e0" fill-opacity="0.3"/>
<circle cx="301.6" cy="94.9" r="0.5" fill="#a8b0e0" fill-opacity="0.3"/>
<circle cx="301.2" cy="92.0" r="0.5" fill="#a8b0e0" fill-opacity="0.3"/>
<circle cx="308.4" cy="89.4" r="0.5" fill="#a8b0e0" fill-opacity="0.3"/>
<circle cx="307.3" cy="86.8" r="0.5" fill="#a8b0e0" fill-opacity="0.3"/>
<circle cx="290.5" cy="86.1" r="0.5" fill="#a8b0e0" fill-opacity="0.3"/>
<circle cx="287.6" cy="90.4" r="0.5" fill="#a8b0e0" fill-opacity="0.3"/>
<circle cx="319.6" cy="72.3" r="0.5" fill="#b4b8d4" fill-opacity="0.35"/>
<circle cx="331.7" cy="63.0" r="0.5" fill="#b4b8d4" fill-opacity="0.35"/>
<circle cx="326.4" cy="67.2" r="0.5" fill="#b4b8d4" fill-opacity="0.35"/>
<circle cx="332.1" cy="62.3" r="0.5" fill="#b4b8d4" fill-opacity="0.35"/>
<circle cx="322.1" cy="65.8" r="0.5" fill="#b4b8d4" fill-opacity="0.35"/>
<circle cx="322.4" cy="69.3" r="0.5" fill="#b4b8d4" fill-opacity="0.35"/>
<circle cx="318.8" cy="66.6" r="0.5" fill="#b4b8d4" fill-opacity="0.35"/>
<circle cx="315.5" cy="70.1" r="0.5" fill="#b4b8d4" fill-opacity="0.35"/>
<circle cx="323.9" cy="66.0" r="0.5" fill="#b4b8d4" fill-opacity="0.35"/>
<circle cx="329.8" cy="57.8" r="0.5" fill="#b4b8d4" fill-opacity="0.35"/>
<circle cx="333.9" cy="63.3" r="0.5" fill="#b4b8d4" fill-opacity="0.35"/>
<circle cx="317.2" cy="68.8" r="0.5" fill="#b4b8d4" fill-opacity="0.35"/>
<circle cx="328.3" cy="63.0" r="0.5" fill="#b4b8d4" fill-opacity="0.35"/>
<circle cx="326.2" cy="61.7" r="0.5" fill="#b4b8d4" fill-opacity="0.35"/>
<circle cx="326.8" cy="64.9" r="0.5" fill="#b4b8d4" fill-opacity="0.35"/>
<circle cx="323.3" cy="63.7" r="0.5" fill="#b4b8d4" fill-opacity="0.35"/>
<circle cx="326.5" cy="68.6" r="0.5" fill="#b4b8d4" fill-opacity="0.35"/>
<circle cx="322.6" cy="68.8" r="0.5" fill="#b4b8d4" fill-opacity="0.35"/>
<circle cx="316.5" cy="66.8" r="0.5" fill="#b4b8d4" fill-opacity="0.35"/>
<circle cx="327.8" cy="58.2" r="0.5" fill="#b4b8d4" fill-opacity="0.35"/>
<circle cx="322.4" cy="71.6" r="0.5" fill="#b4b8d4" fill-opacity="0.35"/>
<circle cx="315.9" cy="75.0" r="0.5" fill="#b4b8d4" fill-opacity="0.35"/>
<circle cx="323.5" cy="65.4" r="0.5" fill="#b4b8d4" fill-opacity="0.35"/>
<circle cx="328.0" cy="64.0" r="0.5" fill="#b4b8d4" fill-opacity="0.35"/>
<circle cx="318.5" cy="70.8" r="0.5" fill="#b4b8d4" fill-opacity="0.35"/>
<circle cx="320.8" cy="70.3" r="0.5" fill="#b4b8d4" fill-opacity="0.35"/>
<circle cx="307.2" cy="77.6" r="0.5" fill="#b4b8d4" fill-opacity="0.35"/>
<circle cx="310.5" cy="79.9" r="0.5" fill="#b4b8d4" fill-opacity="0.35"/>
<circle cx="335.5" cy="60.8" r="0.5" fill="#b4b8d4" fill-opacity="0.35"/>
<circle cx="322.6" cy="65.6" r="0.5" fill="#b4b8d4" fill-opacity="0.35"/>
<circle cx="325.1" cy="69.0" r="0.5" fill="#b4b8d4" fill-opacity="0.35"/>
<circle cx="324.3" cy="61.2" r="0.5" fill="#b4b8d4" fill-opacity="0.35"/>
<circle cx="320.2" cy="72.9" r="0.5" fill="#b4b8d4" fill-opacity="0.35"/>
<circle cx="323.3" cy="73.1" r="0.5" fill="#b4b8d4" fill-opacity="0.35"/>
<circle cx="332.5" cy="62.2" r="0.5" fill="#b4b8d4" fill-opacity="0.35"/>
<circle cx="327.7" cy="61.4" r="0.5" fill="#b4b8d4" fill-opacity="0.35"/>
<circle cx="323.7" cy="73.0" r="0.5" fill="#b4b8d4" fill-opacity="0.35"/>
<circle cx="321.7" cy="67.3" r="0.5" fill="#b4b8d4" fill-opacity="0.35"/>
<circle cx="316.9" cy="71.1" r="0.5" fill="#b4b8d4" fill-opacity="0.35"/>
<circle cx="316.2" cy="78.9" r="0.5" fill="#b4b8d4" fill-opacity="0.35"/>
<circle cx="332.6" cy="58.1" r="0.5" fill="#b4b8d4" fill-opacity="0.35"/>
<circle cx="328.9" cy="65.2" r="0.5" fill="#b4b8d4" fill-opacity="0.35"/>
<circle cx="327.0" cy="65.3" r="0.5" fill="#b4b8d4" fill-opacity="0.35"/>
<circle cx="327.9" cy="65.7" r="0.5" fill="#b4b8d4" fill-opacity="0.35"/>
<circle cx="319.5" cy="70.5" r="0.5" fill="#b4b8d4" fill-opacity="0.35"/>
<circle cx="328.2" cy="65.6" r="0.5" fill="#b4b8d4" fill-opacity="0.35"/>
<circle cx="326.0" cy="74.4" r="0.5" fill="#b4b8d4" fill-opacity="0.35"/>
<circle cx="316.6" cy="69.4" r="0.5" fill="#b4b8d4" fill-opacity="0.35"/>
<circle cx="321.5" cy="69.6" r="0.5" fill="#b4b8d4" fill-opacity="0.35"/>
<circle cx="313.0" cy="75.5" r="0.5" fill="#b4b8d4" fill-opacity="0.35"/>
<circle cx="323.0" cy="62.6" r="0.5" fill="#b4b8d4" fill-opacity="0.35"/>
<circle cx="322.8" cy="73.8" r="0.5" fill="#b4b8d4" fill-opacity="0.35"/>
<circle cx="314.1" cy="75.0" r="0.5" fill="#b4b8d4" fill-opacity="0.35"/>
<circle cx="321.5" cy="67.9" r="0.5" fill="#b4b8d4" fill-opacity="0.35"/>
<circle cx="309.3" cy="81.5" r="0.5" fill="#b4b8d4" fill-opacity="0.35"/>
<circle cx="314.8" cy="79.1" r="0.5" fill="#b4b8d4" fill-opacity="0.35"/>
<circle cx="325.7" cy="62.8" r="0.5" fill="#b4b8d4" fill-opacity="0.35"/>
<circle cx="332.4" cy="67.9" r="0.5" fill="#b4b8d4" fill-opacity="0.35"/>
<circle cx="312.6" cy="78.4" r="0.5" fill="#b4b8d4" fill-opacity="0.35"/>
<circle cx="321.0" cy="63.9" r="0.5" fill="#b4b8d4" fill-opacity="0.35"/>
<circle cx="335.2" cy="59.3" r="0.5" fill="#b4b8d4" fill-opacity="0.35"/>
<circle cx="322.8" cy="70.5" r="0.5" fill="#b4b8d4" fill-opacity="0.35"/>
<circle cx="314.6" cy="74.3" r="0.5" fill="#b4b8d4" fill-opacity="0.35"/>
<circle cx="308.5" cy="74.3" r="0.5" fill="#b4b8d4" fill-opacity="0.35"/>
<circle cx="329.1" cy="61.0" r="0.5" fill="#b4b8d4" fill-opacity="0.35"/>
<circle cx="330.7" cy="64.2" r="0.5" fill="#b4b8d4" fill-opacity="0.35"/>
<circle cx="320.8" cy="70.3" r="0.5" fill="#b4b8d4" fill-opacity="0.35"/>
<circle cx="325.5" cy="66.4" r="0.5" fill="#b4b8d4" fill-opacity="0.35"/>
<circle cx="330.3" cy="61.7" r="0.5" fill="#b4b8d4" fill-opacity="0.35"/>
<circle cx="330.1" cy="64.7" r="0.5" fill="#b4b8d4" fill-opacity="0.35"/>
<circle cx="284.8" cy="101.8" r="0.45" fill="#a0a4c8" fill-opacity="0.4"/>
<circle cx="306.7" cy="102.2" r="0.45" fill="#a0a4c8" fill-opacity="0.4"/>
<circle cx="330.7" cy="102.0" r="0.45" fill="#a0a4c8" fill-opacity="0.4"/>
<circle cx="315.0" cy="101.9" r="0.45" fill="#a0a4c8" fill-opacity="0.4"/>
<circle cx="319.8" cy="101.8" r="0.45" fill="#a0a4c8" fill-opacity="0.4"/>
<circle cx="332.5" cy="101.9" r="0.45" fill="#a0a4c8" fill-opacity="0.4"/>
<circle cx="334.1" cy="102.1" r="0.45" fill="#a0a4c8" fill-opacity="0.4"/>
<circle cx="314.0" cy="101.9" r="0.45" fill="#a0a4c8" fill-opacity="0.4"/>
<circle cx="318.3" cy="102.2" r="0.45" fill="#a0a4c8" fill-opacity="0.4"/>
<circle cx="325.1" cy="101.5" r="0.45" fill="#a0a4c8" fill-opacity="0.4"/>
<circle cx="295.9" cy="101.6" r="0.45" fill="#a0a4c8" fill-opacity="0.4"/>
<circle cx="300.3" cy="102.2" r="0.45" fill="#a0a4c8" fill-opacity="0.4"/>
<circle cx="301.9" cy="102.3" r="0.45" fill="#a0a4c8" fill-opacity="0.4"/>
<circle cx="290.1" cy="101.9" r="0.45" fill="#a0a4c8" fill-opacity="0.4"/>
<circle cx="338.8" cy="101.8" r="0.45" fill="#a0a4c8" fill-opacity="0.4"/>
<circle cx="311.4" cy="102.3" r="0.45" fill="#a0a4c8" fill-opacity="0.4"/>
<circle cx="317.9" cy="102.0" r="0.45" fill="#a0a4c8" fill-opacity="0.4"/>
<circle cx="339.7" cy="102.3" r="0.45" fill="#a0a4c8" fill-opacity="0.4"/>
<circle cx="318.0" cy="101.8" r="0.45" fill="#a0a4c8" fill-opacity="0.4"/>
</g>
<line x1="306.5" y1="43.3" x2="306.5" y2="103.2" stroke="#d4b0de" stroke-width="0.7"/>
<line x1="282.3" y1="81.5" x2="342.6" y2="81.5" stroke="#e0a8cc" stroke-width="0.7"/>
<text x="288.4" y="52.83" font-size="5.8" fill="#1a1a1a" textLength="10" lengthAdjust="spacingAndGlyphs">23.8</text>
<text x="329.4" y="101.83" font-size="5.8" fill="#1a1a1a" textLength="9.6" lengthAdjust="spacingAndGlyphs">57.8</text>
<line x1="386.4" y1="24.2" x2="386.4" y2="113.2" stroke="#000" stroke-width="1.3"/>
<line x1="385.8" y1="112.6" x2="468.7" y2="112.6" stroke="#000" stroke-width="1.3"/>
<line x1="383.4" y1="112.6" x2="386.4" y2="112.6" stroke="#000" stroke-width="1.1"/>
<text x="380" y="115.61" font-size="8.6" fill="#262626" text-anchor="end">0</text>
<line x1="383.4" y1="95.6" x2="386.4" y2="95.6" stroke="#000" stroke-width="1.1"/>
<text x="380" y="98.61" font-size="8.6" fill="#262626" text-anchor="end">10</text>
<line x1="383.4" y1="78.6" x2="386.4" y2="78.6" stroke="#000" stroke-width="1.1"/>
<text x="380" y="81.61" font-size="8.6" fill="#262626" text-anchor="end">20</text>
<line x1="383.4" y1="61.6" x2="386.4" y2="61.6" stroke="#000" stroke-width="1.1"/>
<text x="380" y="64.61" font-size="8.6" fill="#262626" text-anchor="end">30</text>
<line x1="383.4" y1="44.6" x2="386.4" y2="44.6" stroke="#000" stroke-width="1.1"/>
<text x="380" y="47.61" font-size="8.6" fill="#262626" text-anchor="end">40</text>
<line x1="383.4" y1="27.6" x2="386.4" y2="27.6" stroke="#000" stroke-width="1.1"/>
<text x="380" y="30.61" font-size="8.6" fill="#262626" text-anchor="end">50</text>
<line x1="386.4" y1="112.6" x2="386.4" y2="115.6" stroke="#000" stroke-width="1.1"/>
<line x1="413.6" y1="112.6" x2="413.6" y2="115.6" stroke="#000" stroke-width="1.1"/>
<line x1="440.9" y1="112.6" x2="440.9" y2="115.6" stroke="#000" stroke-width="1.1"/>
<line x1="468.2" y1="112.6" x2="468.2" y2="115.6" stroke="#000" stroke-width="1.1"/>
<rect x="392.5" y="47.15" width="7.5" height="65.45" fill="#33507f" stroke="#253d66" stroke-width="0.5"/>
<line x1="396.25" y1="47.15" x2="396.25" y2="39.5" stroke="#2a2a2a" stroke-width="1.4"/>
<line x1="393.93" y1="39.5" x2="398.57" y2="39.5" stroke="#2a2a2a" stroke-width="1.5"/>
<rect x="400" y="71.8" width="7.6" height="40.8" fill="#a30c33" stroke="#7d0a28" stroke-width="0.5"/>
<line x1="403.8" y1="71.8" x2="403.8" y2="66.7" stroke="#2a2a2a" stroke-width="1.4"/>
<line x1="401.44" y1="66.7" x2="406.16" y2="66.7" stroke="#2a2a2a" stroke-width="1.5"/>
<rect x="419" y="53.1" width="7.8" height="59.5" fill="#33507f" stroke="#253d66" stroke-width="0.5"/>
<line x1="422.9" y1="53.1" x2="422.9" y2="46.3" stroke="#2a2a2a" stroke-width="1.4"/>
<line x1="420.48" y1="46.3" x2="425.32" y2="46.3" stroke="#2a2a2a" stroke-width="1.5"/>
<rect x="426.8" y="79.79" width="8" height="32.81" fill="#a30c33" stroke="#7d0a28" stroke-width="0.5"/>
<line x1="430.8" y1="79.79" x2="430.8" y2="73.5" stroke="#2a2a2a" stroke-width="1.4"/>
<line x1="428.32" y1="73.5" x2="433.28" y2="73.5" stroke="#2a2a2a" stroke-width="1.5"/>
<rect x="446" y="61.6" width="7.7" height="51" fill="#33507f" stroke="#253d66" stroke-width="0.5"/>
<line x1="449.85" y1="61.6" x2="449.85" y2="54.12" stroke="#2a2a2a" stroke-width="1.4"/>
<line x1="447.46" y1="54.12" x2="452.24" y2="54.12" stroke="#2a2a2a" stroke-width="1.5"/>
<rect x="453.7" y="80.3" width="8" height="32.3" fill="#a30c33" stroke="#7d0a28" stroke-width="0.5"/>
<line x1="457.7" y1="80.3" x2="457.7" y2="76.05" stroke="#2a2a2a" stroke-width="1.4"/>
<line x1="455.22" y1="76.05" x2="460.18" y2="76.05" stroke="#2a2a2a" stroke-width="1.5"/>
<circle cx="403.8" cy="61.5" r="1.25" fill="#151515"/>
<circle cx="430.8" cy="68.5" r="1.25" fill="#151515"/>
<circle cx="457.7" cy="71.5" r="1.25" fill="#151515"/>
<text x="400.3" y="126.61" font-size="8.6" fill="#262626" text-anchor="middle">4</text>
<text x="426.7" y="126.61" font-size="8.6" fill="#262626" text-anchor="middle">8</text>
<text x="454.2" y="126.61" font-size="8.6" fill="#262626" text-anchor="middle">20-30</text>
<text x="428.2" y="139.87" font-size="10.2" fill="#222" stroke="#222" stroke-width="0.32" text-anchor="middle" textLength="50.8" lengthAdjust="spacingAndGlyphs">Weeks after BMT</text>
<text transform="translate(365.87 69.2) rotate(-90)" font-size="10.2" fill="#222" stroke="#222" stroke-width="0.32" text-anchor="middle" textLength="65.6" lengthAdjust="spacingAndGlyphs">Donor-derived PB (%)</text>
<rect x="424.2" y="27.5" width="3.5" height="3.5" fill="#243d6a"/>
<rect x="424.2" y="36.7" width="3.5" height="3.5" fill="#8e0a2c"/>
<text x="430.6" y="31.32" font-size="7.2" fill="#333">ctrl</text>
<text x="430.6" y="40.62" font-size="7.2" fill="#333" textLength="38" lengthAdjust="spacingAndGlyphs">miR-26 TuD</text>
<text x="8.7" y="167.55" font-size="11" fill="#000" font-weight="bold">C</text>
<line x1="36.7" y1="193.8" x2="36.7" y2="273.4" stroke="#000" stroke-width="1.3"/>
<line x1="36.1" y1="272.8" x2="102.9" y2="272.8" stroke="#000" stroke-width="1.3"/>
<line x1="33.7" y1="272.8" x2="36.7" y2="272.8" stroke="#000" stroke-width="1.1"/>
<text x="30.7" y="275.81" font-size="8.6" fill="#262626" text-anchor="end">0</text>
<line x1="33.7" y1="253.65" x2="36.7" y2="253.65" stroke="#000" stroke-width="1.1"/>
<text x="30.7" y="256.66" font-size="8.6" fill="#262626" text-anchor="end">10</text>
<line x1="33.7" y1="234.5" x2="36.7" y2="234.5" stroke="#000" stroke-width="1.1"/>
<text x="30.7" y="237.51" font-size="8.6" fill="#262626" text-anchor="end">20</text>
<line x1="33.7" y1="215.35" x2="36.7" y2="215.35" stroke="#000" stroke-width="1.1"/>
<text x="30.7" y="218.36" font-size="8.6" fill="#262626" text-anchor="end">30</text>
<line x1="33.7" y1="196.2" x2="36.7" y2="196.2" stroke="#000" stroke-width="1.1"/>
<text x="30.7" y="199.21" font-size="8.6" fill="#262626" text-anchor="end">40</text>
<line x1="36.7" y1="272.8" x2="36.7" y2="275.8" stroke="#000" stroke-width="1.1"/>
<line x1="58.5" y1="272.8" x2="58.5" y2="275.8" stroke="#000" stroke-width="1.1"/>
<line x1="80.4" y1="272.8" x2="80.4" y2="275.8" stroke="#000" stroke-width="1.1"/>
<line x1="102.7" y1="272.8" x2="102.7" y2="275.8" stroke="#000" stroke-width="1.1"/>
<rect x="41" y="222.05" width="6.6" height="50.75" fill="#33507f" stroke="#253d66" stroke-width="0.5"/>
<line x1="44.3" y1="222.05" x2="44.3" y2="215.35" stroke="#2a2a2a" stroke-width="1.4"/>
<line x1="42.25" y1="215.35" x2="46.35" y2="215.35" stroke="#2a2a2a" stroke-width="1.5"/>
<rect x="47.6" y="238.71" width="6.5" height="34.09" fill="#a30c33" stroke="#7d0a28" stroke-width="0.5"/>
<line x1="50.85" y1="238.71" x2="50.85" y2="228.75" stroke="#2a2a2a" stroke-width="1.4"/>
<line x1="48.84" y1="228.75" x2="52.87" y2="228.75" stroke="#2a2a2a" stroke-width="1.5"/>
<rect x="63.3" y="223.97" width="6.1" height="48.83" fill="#33507f" stroke="#253d66" stroke-width="0.5"/>
<line x1="66.35" y1="223.97" x2="66.35" y2="218.22" stroke="#2a2a2a" stroke-width="1.4"/>
<line x1="64.46" y1="218.22" x2="68.24" y2="218.22" stroke="#2a2a2a" stroke-width="1.5"/>
<rect x="69.4" y="243.69" width="6.6" height="29.11" fill="#a30c33" stroke="#7d0a28" stroke-width="0.5"/>
<line x1="72.7" y1="243.69" x2="72.7" y2="240.25" stroke="#2a2a2a" stroke-width="1.4"/>
<line x1="70.65" y1="240.25" x2="74.75" y2="240.25" stroke="#2a2a2a" stroke-width="1.5"/>
<rect x="85.2" y="220.52" width="6.5" height="52.28" fill="#33507f" stroke="#253d66" stroke-width="0.5"/>
<line x1="88.45" y1="220.52" x2="88.45" y2="214.39" stroke="#2a2a2a" stroke-width="1.4"/>
<line x1="86.44" y1="214.39" x2="90.47" y2="214.39" stroke="#2a2a2a" stroke-width="1.5"/>
<rect x="91.7" y="235.07" width="6.6" height="37.73" fill="#a30c33" stroke="#7d0a28" stroke-width="0.5"/>
<line x1="95" y1="235.07" x2="95" y2="230.1" stroke="#2a2a2a" stroke-width="1.4"/>
<line x1="92.95" y1="230.1" x2="97.05" y2="230.1" stroke="#2a2a2a" stroke-width="1.5"/>
<text x="70.8" y="188.8" font-size="10" fill="#000" font-weight="bold" text-anchor="middle">B220</text>
<circle cx="72.6" cy="235.6" r="1.25" fill="#151515"/>
<text x="47.5" y="286.51" font-size="8.6" fill="#262626" text-anchor="middle">4</text>
<text x="69.4" y="286.51" font-size="8.6" fill="#262626" text-anchor="middle">8</text>
<text x="91" y="286.51" font-size="8.6" fill="#262626" text-anchor="middle">20-30</text>
<line x1="126.6" y1="193.8" x2="126.6" y2="273.4" stroke="#000" stroke-width="1.3"/>
<line x1="126" y1="272.8" x2="192.8" y2="272.8" stroke="#000" stroke-width="1.3"/>
<line x1="123.6" y1="272.8" x2="126.6" y2="272.8" stroke="#000" stroke-width="1.1"/>
<text x="120.6" y="275.81" font-size="8.6" fill="#262626" text-anchor="end">0</text>
<line x1="123.6" y1="253.65" x2="126.6" y2="253.65" stroke="#000" stroke-width="1.1"/>
<text x="120.6" y="256.66" font-size="8.6" fill="#262626" text-anchor="end">10</text>
<line x1="123.6" y1="234.5" x2="126.6" y2="234.5" stroke="#000" stroke-width="1.1"/>
<text x="120.6" y="237.51" font-size="8.6" fill="#262626" text-anchor="end">20</text>
<line x1="123.6" y1="215.35" x2="126.6" y2="215.35" stroke="#000" stroke-width="1.1"/>
<text x="120.6" y="218.36" font-size="8.6" fill="#262626" text-anchor="end">30</text>
<line x1="123.6" y1="196.2" x2="126.6" y2="196.2" stroke="#000" stroke-width="1.1"/>
<text x="120.6" y="199.21" font-size="8.6" fill="#262626" text-anchor="end">40</text>
<line x1="126.6" y1="272.8" x2="126.6" y2="275.8" stroke="#000" stroke-width="1.1"/>
<line x1="148.4" y1="272.8" x2="148.4" y2="275.8" stroke="#000" stroke-width="1.1"/>
<line x1="170.3" y1="272.8" x2="170.3" y2="275.8" stroke="#000" stroke-width="1.1"/>
<line x1="192.6" y1="272.8" x2="192.6" y2="275.8" stroke="#000" stroke-width="1.1"/>
<rect x="130.9" y="226.84" width="6.6" height="45.96" fill="#33507f" stroke="#253d66" stroke-width="0.5"/>
<line x1="134.2" y1="226.84" x2="134.2" y2="222.44" stroke="#2a2a2a" stroke-width="1.4"/>
<line x1="132.15" y1="222.44" x2="136.25" y2="222.44" stroke="#2a2a2a" stroke-width="1.5"/>
<rect x="137.5" y="243.5" width="6.5" height="29.3" fill="#a30c33" stroke="#7d0a28" stroke-width="0.5"/>
<line x1="140.75" y1="243.5" x2="140.75" y2="234.5" stroke="#2a2a2a" stroke-width="1.4"/>
<line x1="138.74" y1="234.5" x2="142.76" y2="234.5" stroke="#2a2a2a" stroke-width="1.5"/>
<rect x="153.2" y="227.41" width="6.1" height="45.39" fill="#33507f" stroke="#253d66" stroke-width="0.5"/>
<line x1="156.25" y1="227.41" x2="156.25" y2="223.01" stroke="#2a2a2a" stroke-width="1.4"/>
<line x1="154.36" y1="223.01" x2="158.14" y2="223.01" stroke="#2a2a2a" stroke-width="1.5"/>
<rect x="159.3" y="240.25" width="6.6" height="32.56" fill="#a30c33" stroke="#7d0a28" stroke-width="0.5"/>
<line x1="162.6" y1="240.25" x2="162.6" y2="238.71" stroke="#2a2a2a" stroke-width="1.4"/>
<line x1="160.55" y1="238.71" x2="164.65" y2="238.71" stroke="#2a2a2a" stroke-width="1.5"/>
<rect x="175.1" y="219.95" width="6.5" height="52.85" fill="#33507f" stroke="#253d66" stroke-width="0.5"/>
<line x1="178.35" y1="219.95" x2="178.35" y2="213.44" stroke="#2a2a2a" stroke-width="1.4"/>
<line x1="176.34" y1="213.44" x2="180.36" y2="213.44" stroke="#2a2a2a" stroke-width="1.5"/>
<rect x="181.6" y="236.99" width="6.6" height="35.81" fill="#a30c33" stroke="#7d0a28" stroke-width="0.5"/>
<line x1="184.9" y1="236.99" x2="184.9" y2="235.46" stroke="#2a2a2a" stroke-width="1.4"/>
<line x1="182.85" y1="235.46" x2="186.95" y2="235.46" stroke="#2a2a2a" stroke-width="1.5"/>
<text x="160.1" y="188.8" font-size="10" fill="#000" font-weight="bold" text-anchor="middle" textLength="19.2" lengthAdjust="spacingAndGlyphs">CD3</text>
<circle cx="162" cy="233.3" r="1.25" fill="#151515"/>
<circle cx="183.8" cy="230.7" r="1.25" fill="#151515"/>
<text x="137.4" y="286.51" font-size="8.6" fill="#262626" text-anchor="middle">4</text>
<text x="159.3" y="286.51" font-size="8.6" fill="#262626" text-anchor="middle">8</text>
<text x="180.9" y="286.51" font-size="8.6" fill="#262626" text-anchor="middle">20-30</text>
<line x1="216.2" y1="193.8" x2="216.2" y2="273.4" stroke="#000" stroke-width="1.3"/>
<line x1="215.6" y1="272.8" x2="282.4" y2="272.8" stroke="#000" stroke-width="1.3"/>
<line x1="213.2" y1="272.8" x2="216.2" y2="272.8" stroke="#000" stroke-width="1.1"/>
<text x="210.2" y="275.81" font-size="8.6" fill="#262626" text-anchor="end">0</text>
<line x1="213.2" y1="253.65" x2="216.2" y2="253.65" stroke="#000" stroke-width="1.1"/>
<text x="210.2" y="256.66" font-size="8.6" fill="#262626" text-anchor="end">10</text>
<line x1="213.2" y1="234.5" x2="216.2" y2="234.5" stroke="#000" stroke-width="1.1"/>
<text x="210.2" y="237.51" font-size="8.6" fill="#262626" text-anchor="end">20</text>
<line x1="213.2" y1="215.35" x2="216.2" y2="215.35" stroke="#000" stroke-width="1.1"/>
<text x="210.2" y="218.36" font-size="8.6" fill="#262626" text-anchor="end">30</text>
<line x1="213.2" y1="196.2" x2="216.2" y2="196.2" stroke="#000" stroke-width="1.1"/>
<text x="210.2" y="199.21" font-size="8.6" fill="#262626" text-anchor="end">40</text>
<line x1="216.2" y1="272.8" x2="216.2" y2="275.8" stroke="#000" stroke-width="1.1"/>
<line x1="238" y1="272.8" x2="238" y2="275.8" stroke="#000" stroke-width="1.1"/>
<line x1="259.9" y1="272.8" x2="259.9" y2="275.8" stroke="#000" stroke-width="1.1"/>
<line x1="282.2" y1="272.8" x2="282.2" y2="275.8" stroke="#000" stroke-width="1.1"/>
<rect x="220.5" y="218.22" width="6.6" height="54.58" fill="#33507f" stroke="#253d66" stroke-width="0.5"/>
<line x1="223.8" y1="218.22" x2="223.8" y2="213.44" stroke="#2a2a2a" stroke-width="1.4"/>
<line x1="221.75" y1="213.44" x2="225.85" y2="213.44" stroke="#2a2a2a" stroke-width="1.5"/>
<rect x="227.1" y="236.42" width="6.5" height="36.38" fill="#a30c33" stroke="#7d0a28" stroke-width="0.5"/>
<line x1="230.35" y1="236.42" x2="230.35" y2="228.75" stroke="#2a2a2a" stroke-width="1.4"/>
<line x1="228.34" y1="228.75" x2="232.36" y2="228.75" stroke="#2a2a2a" stroke-width="1.5"/>
<rect x="242.8" y="223.97" width="6.1" height="48.83" fill="#33507f" stroke="#253d66" stroke-width="0.5"/>
<line x1="245.85" y1="223.97" x2="245.85" y2="217.27" stroke="#2a2a2a" stroke-width="1.4"/>
<line x1="243.96" y1="217.27" x2="247.74" y2="217.27" stroke="#2a2a2a" stroke-width="1.5"/>
<rect x="248.9" y="245.03" width="6.6" height="27.77" fill="#a30c33" stroke="#7d0a28" stroke-width="0.5"/>
<line x1="252.2" y1="245.03" x2="252.2" y2="238.33" stroke="#2a2a2a" stroke-width="1.4"/>
<line x1="250.15" y1="238.33" x2="254.25" y2="238.33" stroke="#2a2a2a" stroke-width="1.5"/>
<rect x="264.7" y="221.1" width="6.5" height="51.7" fill="#33507f" stroke="#253d66" stroke-width="0.5"/>
<line x1="267.95" y1="221.1" x2="267.95" y2="211.52" stroke="#2a2a2a" stroke-width="1.4"/>
<line x1="265.94" y1="211.52" x2="269.96" y2="211.52" stroke="#2a2a2a" stroke-width="1.5"/>
<rect x="271.2" y="240.25" width="6.6" height="32.56" fill="#a30c33" stroke="#7d0a28" stroke-width="0.5"/>
<line x1="274.5" y1="240.25" x2="274.5" y2="236.42" stroke="#2a2a2a" stroke-width="1.4"/>
<line x1="272.45" y1="236.42" x2="276.55" y2="236.42" stroke="#2a2a2a" stroke-width="1.5"/>
<text x="249.5" y="188.8" font-size="10" fill="#000" font-weight="bold" text-anchor="middle">Mac-1</text>
<circle cx="230" cy="223" r="1.25" fill="#151515"/>
<circle cx="251.8" cy="233.3" r="1.25" fill="#151515"/>
<circle cx="273.4" cy="231" r="1.25" fill="#151515"/>
<text x="227" y="286.51" font-size="8.6" fill="#262626" text-anchor="middle">4</text>
<text x="248.9" y="286.51" font-size="8.6" fill="#262626" text-anchor="middle">8</text>
<text x="270.5" y="286.51" font-size="8.6" fill="#262626" text-anchor="middle">20-30</text>
<text transform="translate(15.87 233.2) rotate(-90)" font-size="10.2" fill="#222" stroke="#222" stroke-width="0.32" text-anchor="middle" textLength="65" lengthAdjust="spacingAndGlyphs">Donor-derived PB (%)</text>
<text x="70.5" y="299.87" font-size="10.2" fill="#222" stroke="#222" stroke-width="0.32" text-anchor="middle" textLength="51" lengthAdjust="spacingAndGlyphs">Weeks after BMT</text>
<line x1="99.2" y1="296.7" x2="271" y2="296.7" stroke="#000" stroke-width="1.3"/>
<path d="M277.2 296.7 L270.2 293.7 L270.2 299.7 Z" fill="#000"/>
<text x="300.8" y="167.35" font-size="11" fill="#000" font-weight="bold">D</text>
<line x1="329.6" y1="197.3" x2="329.6" y2="273.3" stroke="#000" stroke-width="1.3"/>
<line x1="329" y1="272.7" x2="376" y2="272.7" stroke="#000" stroke-width="1.3"/>
<line x1="326.6" y1="272.7" x2="329.6" y2="272.7" stroke="#000" stroke-width="1.1"/>
<text x="323.2" y="275.71" font-size="8.6" fill="#262626" text-anchor="end">0</text>
<line x1="326.6" y1="254.5" x2="329.6" y2="254.5" stroke="#000" stroke-width="1.1"/>
<text x="323.2" y="257.51" font-size="8.6" fill="#262626" text-anchor="end">10</text>
<line x1="326.6" y1="236.3" x2="329.6" y2="236.3" stroke="#000" stroke-width="1.1"/>
<text x="323.2" y="239.31" font-size="8.6" fill="#262626" text-anchor="end">20</text>
<line x1="326.6" y1="218.1" x2="329.6" y2="218.1" stroke="#000" stroke-width="1.1"/>
<text x="323.2" y="221.11" font-size="8.6" fill="#262626" text-anchor="end">30</text>
<line x1="326.6" y1="199.9" x2="329.6" y2="199.9" stroke="#000" stroke-width="1.1"/>
<text x="323.2" y="202.91" font-size="8.6" fill="#262626" text-anchor="end">40</text>
<line x1="329.6" y1="272.7" x2="329.6" y2="275.7" stroke="#000" stroke-width="1.1"/>
<line x1="350.9" y1="272.7" x2="350.9" y2="275.7" stroke="#000" stroke-width="1.1"/>
<line x1="375.9" y1="272.7" x2="375.9" y2="275.7" stroke="#000" stroke-width="1.1"/>
<rect x="336.2" y="209" width="8.4" height="63.7" fill="#33507f" stroke="#253d66" stroke-width="0.5"/>
<line x1="340.4" y1="209" x2="340.4" y2="203.54" stroke="#2a2a2a" stroke-width="1.4"/>
<line x1="337.8" y1="203.54" x2="343" y2="203.54" stroke="#2a2a2a" stroke-width="1.5"/>
<rect x="357.8" y="232.11" width="8.4" height="40.59" fill="#a30c33" stroke="#7d0a28" stroke-width="0.5"/>
<line x1="362" y1="232.11" x2="362" y2="225.38" stroke="#2a2a2a" stroke-width="1.4"/>
<line x1="359.4" y1="225.38" x2="364.6" y2="225.38" stroke="#2a2a2a" stroke-width="1.5"/>
<circle cx="362" cy="220" r="1.25" fill="#151515"/>
<text x="352.7" y="188.7" font-size="10" fill="#000" font-weight="bold" text-anchor="middle">BM</text>
<text x="340.7" y="286.13" font-size="7.8" fill="#1e1e1e" text-anchor="middle">ctrl</text>
<text x="362.3" y="286.13" font-size="7.8" fill="#1e1e1e" text-anchor="middle">miR-26</text>
<text x="362.3" y="295.33" font-size="7.8" fill="#1e1e1e" text-anchor="middle">TuD</text>
<text transform="translate(308.17 234.2) rotate(-90)" font-size="10.2" fill="#222" stroke="#222" stroke-width="0.32" text-anchor="middle" textLength="70.8" lengthAdjust="spacingAndGlyphs">Donor-derived cells (%)</text>
<line x1="398" y1="197.3" x2="398" y2="273" stroke="#000" stroke-width="1.3"/>
<line x1="397.4" y1="272.4" x2="444.4" y2="272.4" stroke="#000" stroke-width="1.3"/>
<line x1="395" y1="272.4" x2="398" y2="272.4" stroke="#000" stroke-width="1.1"/>
<text x="391.6" y="275.41" font-size="8.6" fill="#262626" text-anchor="end">0</text>
<line x1="395" y1="248.4" x2="398" y2="248.4" stroke="#000" stroke-width="1.1"/>
<text x="391.6" y="251.41" font-size="8.6" fill="#262626" text-anchor="end">10</text>
<line x1="395" y1="224.4" x2="398" y2="224.4" stroke="#000" stroke-width="1.1"/>
<text x="391.6" y="227.41" font-size="8.6" fill="#262626" text-anchor="end">20</text>
<line x1="395" y1="200.4" x2="398" y2="200.4" stroke="#000" stroke-width="1.1"/>
<text x="391.6" y="203.41" font-size="8.6" fill="#262626" text-anchor="end">30</text>
<line x1="398" y1="272.4" x2="398" y2="275.4" stroke="#000" stroke-width="1.1"/>
<line x1="419.4" y1="272.4" x2="419.4" y2="275.4" stroke="#000" stroke-width="1.1"/>
<line x1="441.6" y1="272.4" x2="441.6" y2="275.4" stroke="#000" stroke-width="1.1"/>
<rect x="404.4" y="211.2" width="8.6" height="61.2" fill="#33507f" stroke="#253d66" stroke-width="0.5"/>
<line x1="408.7" y1="211.2" x2="408.7" y2="203.76" stroke="#2a2a2a" stroke-width="1.4"/>
<line x1="406.03" y1="203.76" x2="411.37" y2="203.76" stroke="#2a2a2a" stroke-width="1.5"/>
<rect x="426.1" y="238.8" width="8.8" height="33.6" fill="#a30c33" stroke="#7d0a28" stroke-width="0.5"/>
<line x1="430.5" y1="238.8" x2="430.5" y2="234" stroke="#2a2a2a" stroke-width="1.4"/>
<line x1="427.77" y1="234" x2="433.23" y2="234" stroke="#2a2a2a" stroke-width="1.5"/>
<circle cx="430.5" cy="228.8" r="1.25" fill="#151515"/>
<text x="421" y="188.7" font-size="10" fill="#000" font-weight="bold" text-anchor="middle">Spleen</text>
<text x="408.8" y="286.13" font-size="7.8" fill="#1e1e1e" text-anchor="middle">ctrl</text>
<text x="430.3" y="286.13" font-size="7.8" fill="#1e1e1e" text-anchor="middle">miR-26</text>
<text x="430.3" y="295.33" font-size="7.8" fill="#1e1e1e" text-anchor="middle">TuD</text>
<line x1="466.3" y1="197.3" x2="466.3" y2="273" stroke="#000" stroke-width="1.3"/>
<line x1="465.7" y1="272.4" x2="512.2" y2="272.4" stroke="#000" stroke-width="1.3"/>
<line x1="463.3" y1="272.4" x2="466.3" y2="272.4" stroke="#000" stroke-width="1.1"/>
<text x="459.9" y="275.41" font-size="8.6" fill="#262626" text-anchor="end">0</text>
<line x1="463.3" y1="258.6" x2="466.3" y2="258.6" stroke="#000" stroke-width="1.1"/>
<text x="459.9" y="261.61" font-size="8.6" fill="#262626" text-anchor="end">10</text>
<line x1="463.3" y1="244.8" x2="466.3" y2="244.8" stroke="#000" stroke-width="1.1"/>
<text x="459.9" y="247.81" font-size="8.6" fill="#262626" text-anchor="end">20</text>
<line x1="463.3" y1="231" x2="466.3" y2="231" stroke="#000" stroke-width="1.1"/>
<text x="459.9" y="234.01" font-size="8.6" fill="#262626" text-anchor="end">30</text>
<line x1="463.3" y1="217.2" x2="466.3" y2="217.2" stroke="#000" stroke-width="1.1"/>
<text x="459.9" y="220.21" font-size="8.6" fill="#262626" text-anchor="end">40</text>
<line x1="463.3" y1="203.4" x2="466.3" y2="203.4" stroke="#000" stroke-width="1.1"/>
<text x="459.9" y="206.41" font-size="8.6" fill="#262626" text-anchor="end">50</text>
<line x1="466.3" y1="272.4" x2="466.3" y2="275.4" stroke="#000" stroke-width="1.1"/>
<line x1="488" y1="272.4" x2="488" y2="275.4" stroke="#000" stroke-width="1.1"/>
<line x1="512" y1="272.4" x2="512" y2="275.4" stroke="#000" stroke-width="1.1"/>
<rect x="472.8" y="216.51" width="9.1" height="55.89" fill="#33507f" stroke="#253d66" stroke-width="0.5"/>
<line x1="477.35" y1="216.51" x2="477.35" y2="202.3" stroke="#2a2a2a" stroke-width="1.4"/>
<line x1="474.53" y1="202.3" x2="480.17" y2="202.3" stroke="#2a2a2a" stroke-width="1.5"/>
<rect x="494.7" y="241.35" width="9.1" height="31.05" fill="#a30c33" stroke="#7d0a28" stroke-width="0.5"/>
<line x1="499.25" y1="241.35" x2="499.25" y2="229.62" stroke="#2a2a2a" stroke-width="1.4"/>
<line x1="496.43" y1="229.62" x2="502.07" y2="229.62" stroke="#2a2a2a" stroke-width="1.5"/>
<circle cx="499.2" cy="224.3" r="1.25" fill="#151515"/>
<text x="490" y="188.7" font-size="10" fill="#000" font-weight="bold" text-anchor="middle" textLength="35.3" lengthAdjust="spacingAndGlyphs">Thymus</text>
<text x="477.2" y="286.13" font-size="7.8" fill="#1e1e1e" text-anchor="middle">ctrl</text>
<text x="499.2" y="286.13" font-size="7.8" fill="#1e1e1e" text-anchor="middle">miR-26</text>
<text x="499.2" y="295.33" font-size="7.8" fill="#1e1e1e" text-anchor="middle">TuD</text>
<text x="9.4" y="327.85" font-size="11" fill="#000" font-weight="bold">E</text>
<line x1="36.7" y1="347.2" x2="36.7" y2="426.4" stroke="#000" stroke-width="1.3"/>
<line x1="36.1" y1="425.8" x2="88.4" y2="425.8" stroke="#000" stroke-width="1.3"/>
<line x1="33.7" y1="425.8" x2="36.7" y2="425.8" stroke="#000" stroke-width="1.1"/>
<text x="30.3" y="428.81" font-size="8.6" fill="#262626" text-anchor="end">0</text>
<line x1="33.7" y1="413.68" x2="36.7" y2="413.68" stroke="#000" stroke-width="1.1"/>
<text x="30.3" y="416.69" font-size="8.6" fill="#262626" text-anchor="end">10</text>
<line x1="33.7" y1="401.56" x2="36.7" y2="401.56" stroke="#000" stroke-width="1.1"/>
<text x="30.3" y="404.57" font-size="8.6" fill="#262626" text-anchor="end">20</text>
<line x1="33.7" y1="389.44" x2="36.7" y2="389.44" stroke="#000" stroke-width="1.1"/>
<text x="30.3" y="392.45" font-size="8.6" fill="#262626" text-anchor="end">30</text>
<line x1="33.7" y1="377.32" x2="36.7" y2="377.32" stroke="#000" stroke-width="1.1"/>
<text x="30.3" y="380.33" font-size="8.6" fill="#262626" text-anchor="end">40</text>
<line x1="33.7" y1="365.2" x2="36.7" y2="365.2" stroke="#000" stroke-width="1.1"/>
<text x="30.3" y="368.21" font-size="8.6" fill="#262626" text-anchor="end">50</text>
<line x1="33.7" y1="353.08" x2="36.7" y2="353.08" stroke="#000" stroke-width="1.1"/>
<text x="30.3" y="356.09" font-size="8.6" fill="#262626" text-anchor="end">60</text>
<line x1="36.7" y1="425.8" x2="36.7" y2="428.8" stroke="#000" stroke-width="1.1"/>
<line x1="62.3" y1="425.8" x2="62.3" y2="428.8" stroke="#000" stroke-width="1.1"/>
<line x1="88.2" y1="425.8" x2="88.2" y2="428.8" stroke="#000" stroke-width="1.1"/>
<rect x="45.6" y="363.99" width="9.4" height="61.81" fill="#33507f" stroke="#253d66" stroke-width="0.5"/>
<line x1="50.3" y1="363.99" x2="50.3" y2="351.26" stroke="#2a2a2a" stroke-width="1.4"/>
<line x1="47.39" y1="351.26" x2="53.21" y2="351.26" stroke="#2a2a2a" stroke-width="1.5"/>
<rect x="70.9" y="388.23" width="10.1" height="37.57" fill="#a30c33" stroke="#7d0a28" stroke-width="0.5"/>
<line x1="75.95" y1="388.23" x2="75.95" y2="381.56" stroke="#2a2a2a" stroke-width="1.4"/>
<line x1="72.95" y1="381.56" x2="78.95" y2="381.56" stroke="#2a2a2a" stroke-width="1.5"/>
<circle cx="76" cy="376.3" r="1.25" fill="#151515"/>
<text x="64.8" y="342.5" font-size="10" fill="#000" font-weight="bold" text-anchor="middle">LSK</text>
<text x="49.8" y="438.93" font-size="7.8" fill="#1e1e1e" text-anchor="middle">ctrl</text>
<text x="75.6" y="438.93" font-size="7.8" fill="#1e1e1e" text-anchor="middle">miR-26</text>
<text x="75.6" y="448.53" font-size="7.8" fill="#1e1e1e" text-anchor="middle">TuD</text>
<text transform="translate(15.37 388.2) rotate(-90)" font-size="10.2" fill="#222" stroke="#222" stroke-width="0.32" text-anchor="middle" textLength="68.8" lengthAdjust="spacingAndGlyphs">Donor-derived cells (%)</text>
<line x1="114.6" y1="347.6" x2="114.6" y2="426.4" stroke="#000" stroke-width="1.3"/>
<line x1="114" y1="425.8" x2="170.6" y2="425.8" stroke="#000" stroke-width="1.3"/>
<line x1="111.6" y1="425.8" x2="114.6" y2="425.8" stroke="#000" stroke-width="1.1"/>
<text x="108.2" y="428.81" font-size="8.6" fill="#262626" text-anchor="end">0</text>
<line x1="111.6" y1="414.98" x2="114.6" y2="414.98" stroke="#000" stroke-width="1.1"/>
<text x="108.2" y="417.99" font-size="8.6" fill="#262626" text-anchor="end">10</text>
<line x1="111.6" y1="404.16" x2="114.6" y2="404.16" stroke="#000" stroke-width="1.1"/>
<text x="108.2" y="407.17" font-size="8.6" fill="#262626" text-anchor="end">20</text>
<line x1="111.6" y1="393.34" x2="114.6" y2="393.34" stroke="#000" stroke-width="1.1"/>
<text x="108.2" y="396.35" font-size="8.6" fill="#262626" text-anchor="end">30</text>
<line x1="111.6" y1="382.52" x2="114.6" y2="382.52" stroke="#000" stroke-width="1.1"/>
<text x="108.2" y="385.53" font-size="8.6" fill="#262626" text-anchor="end">40</text>
<line x1="111.6" y1="371.7" x2="114.6" y2="371.7" stroke="#000" stroke-width="1.1"/>
<text x="108.2" y="374.71" font-size="8.6" fill="#262626" text-anchor="end">50</text>
<line x1="111.6" y1="360.88" x2="114.6" y2="360.88" stroke="#000" stroke-width="1.1"/>
<text x="108.2" y="363.89" font-size="8.6" fill="#262626" text-anchor="end">60</text>
<line x1="111.6" y1="350.06" x2="114.6" y2="350.06" stroke="#000" stroke-width="1.1"/>
<text x="108.2" y="353.07" font-size="8.6" fill="#262626" text-anchor="end">70</text>
<line x1="114.6" y1="425.8" x2="114.6" y2="428.8" stroke="#000" stroke-width="1.1"/>
<line x1="140.5" y1="425.8" x2="140.5" y2="428.8" stroke="#000" stroke-width="1.1"/>
<line x1="167" y1="425.8" x2="167" y2="428.8" stroke="#000" stroke-width="1.1"/>
<rect x="122.4" y="367.37" width="10.5" height="58.43" fill="#33507f" stroke="#253d66" stroke-width="0.5"/>
<line x1="127.65" y1="367.37" x2="127.65" y2="356.23" stroke="#2a2a2a" stroke-width="1.4"/>
<line x1="124.65" y1="356.23" x2="130.65" y2="356.23" stroke="#2a2a2a" stroke-width="1.5"/>
<rect x="148.6" y="383.93" width="10.6" height="41.87" fill="#a30c33" stroke="#7d0a28" stroke-width="0.5"/>
<line x1="153.9" y1="383.93" x2="153.9" y2="378.19" stroke="#2a2a2a" stroke-width="1.4"/>
<line x1="150.9" y1="378.19" x2="156.9" y2="378.19" stroke="#2a2a2a" stroke-width="1.5"/>
<circle cx="153.9" cy="373.7" r="1.25" fill="#151515"/>
<text x="142.7" y="342.3" font-size="10" fill="#000" font-weight="bold" text-anchor="middle">HSC</text>
<text x="127.7" y="438.93" font-size="7.8" fill="#1e1e1e" text-anchor="middle">ctrl</text>
<text x="153.8" y="438.93" font-size="7.8" fill="#1e1e1e" text-anchor="middle">miR-26</text>
<text x="153.8" y="448.53" font-size="7.8" fill="#1e1e1e" text-anchor="middle">TuD</text>
<text x="185.2" y="327.85" font-size="11" fill="#000" font-weight="bold">F</text>
<line x1="212.9" y1="351.6" x2="212.9" y2="426.4" stroke="#000" stroke-width="1.3"/>
<line x1="212.3" y1="425.8" x2="265.4" y2="425.8" stroke="#000" stroke-width="1.3"/>
<line x1="209.9" y1="425.8" x2="212.9" y2="425.8" stroke="#000" stroke-width="1.1"/>
<text x="206.5" y="428.81" font-size="8.6" fill="#262626" text-anchor="end">0</text>
<line x1="209.9" y1="404.57" x2="212.9" y2="404.57" stroke="#000" stroke-width="1.1"/>
<text x="206.5" y="407.58" font-size="8.6" fill="#262626" text-anchor="end">10</text>
<line x1="209.9" y1="383.34" x2="212.9" y2="383.34" stroke="#000" stroke-width="1.1"/>
<text x="206.5" y="386.35" font-size="8.6" fill="#262626" text-anchor="end">20</text>
<line x1="209.9" y1="362.11" x2="212.9" y2="362.11" stroke="#000" stroke-width="1.1"/>
<text x="206.5" y="365.12" font-size="8.6" fill="#262626" text-anchor="end">30</text>
<line x1="212.9" y1="425.8" x2="212.9" y2="428.8" stroke="#000" stroke-width="1.1"/>
<line x1="239.4" y1="425.8" x2="239.4" y2="428.8" stroke="#000" stroke-width="1.1"/>
<line x1="265" y1="425.8" x2="265" y2="428.8" stroke="#000" stroke-width="1.1"/>
<rect x="220.5" y="413.91" width="11.1" height="11.89" fill="#33507f" stroke="#253d66" stroke-width="0.5"/>
<line x1="226.05" y1="413.91" x2="226.05" y2="410.94" stroke="#2a2a2a" stroke-width="1.4"/>
<line x1="223.05" y1="410.94" x2="229.05" y2="410.94" stroke="#2a2a2a" stroke-width="1.5"/>
<rect x="246.7" y="369.54" width="10.5" height="56.26" fill="#a30c33" stroke="#7d0a28" stroke-width="0.5"/>
<line x1="251.95" y1="369.54" x2="251.95" y2="358.5" stroke="#2a2a2a" stroke-width="1.4"/>
<line x1="248.95" y1="358.5" x2="254.95" y2="358.5" stroke="#2a2a2a" stroke-width="1.5"/>
<circle cx="250" cy="353.1" r="1.25" fill="#151515"/>
<circle cx="254" cy="353.1" r="1.25" fill="#151515"/>
<text x="241.1" y="342.3" font-size="10" fill="#000" font-weight="bold" text-anchor="middle">LSK</text>
<text x="226" y="438.93" font-size="7.8" fill="#1e1e1e" text-anchor="middle">Ctrl</text>
<text x="252.3" y="438.93" font-size="7.8" fill="#1e1e1e" text-anchor="middle">miR-26</text>
<text x="252.3" y="448.53" font-size="7.8" fill="#1e1e1e" text-anchor="middle">TuD</text>
<text transform="translate(192.37 389.2) rotate(-90)" font-size="10.2" fill="#222" stroke="#222" stroke-width="0.32" text-anchor="middle" textLength="62.8" lengthAdjust="spacingAndGlyphs">Annexin V+ cells (%)</text>
<line x1="290.5" y1="351.5" x2="290.5" y2="426.4" stroke="#000" stroke-width="1.3"/>
<line x1="289.9" y1="425.8" x2="346.5" y2="425.8" stroke="#000" stroke-width="1.3"/>
<line x1="287.5" y1="425.8" x2="290.5" y2="425.8" stroke="#000" stroke-width="1.1"/>
<text x="284.1" y="428.81" font-size="8.6" fill="#262626" text-anchor="end">0</text>
<line x1="287.5" y1="404" x2="290.5" y2="404" stroke="#000" stroke-width="1.1"/>
<text x="284.1" y="407.01" font-size="8.6" fill="#262626" text-anchor="end">5</text>
<line x1="287.5" y1="382.2" x2="290.5" y2="382.2" stroke="#000" stroke-width="1.1"/>
<text x="284.1" y="385.21" font-size="8.6" fill="#262626" text-anchor="end">10</text>
<line x1="287.5" y1="360.4" x2="290.5" y2="360.4" stroke="#000" stroke-width="1.1"/>
<text x="284.1" y="363.41" font-size="8.6" fill="#262626" text-anchor="end">15</text>
<line x1="290.5" y1="425.8" x2="290.5" y2="428.8" stroke="#000" stroke-width="1.1"/>
<line x1="316.4" y1="425.8" x2="316.4" y2="428.8" stroke="#000" stroke-width="1.1"/>
<line x1="343.2" y1="425.8" x2="343.2" y2="428.8" stroke="#000" stroke-width="1.1"/>
<rect x="298.4" y="419.26" width="10.7" height="6.54" fill="#33507f" stroke="#253d66" stroke-width="0.5"/>
<line x1="303.75" y1="419.26" x2="303.75" y2="411.85" stroke="#2a2a2a" stroke-width="1.4"/>
<line x1="300.75" y1="411.85" x2="306.75" y2="411.85" stroke="#2a2a2a" stroke-width="1.5"/>
<rect x="324.6" y="382.2" width="10.5" height="43.6" fill="#a30c33" stroke="#7d0a28" stroke-width="0.5"/>
<line x1="329.85" y1="382.2" x2="329.85" y2="362.14" stroke="#2a2a2a" stroke-width="1.4"/>
<line x1="326.85" y1="362.14" x2="332.85" y2="362.14" stroke="#2a2a2a" stroke-width="1.5"/>
<circle cx="329.9" cy="357.4" r="1.25" fill="#151515"/>
<text x="318.8" y="342.3" font-size="10" fill="#000" font-weight="bold" text-anchor="middle">HSC</text>
<text x="303.9" y="438.93" font-size="7.8" fill="#1e1e1e" text-anchor="middle">Ctrl</text>
<text x="329.4" y="438.93" font-size="7.8" fill="#1e1e1e" text-anchor="middle">miR-26</text>
<text x="329.4" y="448.53" font-size="7.8" fill="#1e1e1e" text-anchor="middle">TuD</text>
<text x="360.3" y="327.55" font-size="11" fill="#000" font-weight="bold">G</text>
<line x1="384.1" y1="351.6" x2="384.1" y2="426.4" stroke="#000" stroke-width="1.3"/>
<line x1="381.1" y1="425.8" x2="436.2" y2="425.8" stroke="#000" stroke-width="1.3"/>
<line x1="381.1" y1="425.8" x2="384.1" y2="425.8" stroke="#000" stroke-width="1.1"/>
<text x="377.7" y="428.81" font-size="8.6" fill="#262626" text-anchor="end">0</text>
<line x1="381.1" y1="408.92" x2="384.1" y2="408.92" stroke="#000" stroke-width="1.1"/>
<text x="377.7" y="411.93" font-size="8.6" fill="#262626" text-anchor="end">2</text>
<line x1="381.1" y1="392.04" x2="384.1" y2="392.04" stroke="#000" stroke-width="1.1"/>
<text x="377.7" y="395.05" font-size="8.6" fill="#262626" text-anchor="end">4</text>
<line x1="381.1" y1="375.16" x2="384.1" y2="375.16" stroke="#000" stroke-width="1.1"/>
<text x="377.7" y="378.17" font-size="8.6" fill="#262626" text-anchor="end">6</text>
<line x1="381.1" y1="358.28" x2="384.1" y2="358.28" stroke="#000" stroke-width="1.1"/>
<text x="377.7" y="361.29" font-size="8.6" fill="#262626" text-anchor="end">8</text>
<line x1="396.5" y1="425.8" x2="396.5" y2="428.8" stroke="#000" stroke-width="1.1"/>
<line x1="422.8" y1="425.8" x2="422.8" y2="428.8" stroke="#000" stroke-width="1.1"/>
<rect x="391.8" y="417.36" width="10.8" height="8.44" fill="#33507f" stroke="#253d66" stroke-width="0.5"/>
<line x1="397.2" y1="417.36" x2="397.2" y2="413.98" stroke="#2a2a2a" stroke-width="1.4"/>
<line x1="394.2" y1="413.98" x2="400.2" y2="413.98" stroke="#2a2a2a" stroke-width="1.5"/>
<rect x="417.8" y="375.16" width="10.8" height="50.64" fill="#a30c33" stroke="#7d0a28" stroke-width="0.5"/>
<line x1="423.2" y1="375.16" x2="423.2" y2="364.19" stroke="#2a2a2a" stroke-width="1.4"/>
<line x1="420.2" y1="364.19" x2="426.2" y2="364.19" stroke="#2a2a2a" stroke-width="1.5"/>
<circle cx="421.2" cy="360" r="1.25" fill="#151515"/>
<circle cx="425.2" cy="360" r="1.25" fill="#151515"/>
<text x="412" y="342.3" font-size="10" fill="#000" font-weight="bold" text-anchor="middle">LSK</text>
<text x="397.2" y="438.93" font-size="7.8" fill="#1e1e1e" text-anchor="middle">Ctrl</text>
<text x="422.9" y="438.93" font-size="7.8" fill="#1e1e1e" text-anchor="middle">miR-26</text>
<text x="422.9" y="448.53" font-size="7.8" fill="#1e1e1e" text-anchor="middle">TuD</text>
<line x1="457.1" y1="351.5" x2="457.1" y2="426.4" stroke="#000" stroke-width="1.3"/>
<line x1="454.1" y1="425.8" x2="509.2" y2="425.8" stroke="#000" stroke-width="1.3"/>
<line x1="454.1" y1="425.8" x2="457.1" y2="425.8" stroke="#000" stroke-width="1.1"/>
<text x="450.7" y="428.81" font-size="8.6" fill="#262626" text-anchor="end">0</text>
<line x1="454.1" y1="408.92" x2="457.1" y2="408.92" stroke="#000" stroke-width="1.1"/>
<text x="450.7" y="411.93" font-size="8.6" fill="#262626" text-anchor="end">2</text>
<line x1="454.1" y1="392.04" x2="457.1" y2="392.04" stroke="#000" stroke-width="1.1"/>
<text x="450.7" y="395.05" font-size="8.6" fill="#262626" text-anchor="end">4</text>
<line x1="454.1" y1="375.16" x2="457.1" y2="375.16" stroke="#000" stroke-width="1.1"/>
<text x="450.7" y="378.17" font-size="8.6" fill="#262626" text-anchor="end">6</text>
<line x1="454.1" y1="358.28" x2="457.1" y2="358.28" stroke="#000" stroke-width="1.1"/>
<text x="450.7" y="361.29" font-size="8.6" fill="#262626" text-anchor="end">8</text>
<line x1="470.1" y1="425.8" x2="470.1" y2="428.8" stroke="#000" stroke-width="1.1"/>
<line x1="496.1" y1="425.8" x2="496.1" y2="428.8" stroke="#000" stroke-width="1.1"/>
<rect x="464.6" y="417.36" width="10.7" height="8.44" fill="#33507f" stroke="#253d66" stroke-width="0.5"/>
<line x1="469.95" y1="417.36" x2="469.95" y2="416.94" stroke="#2a2a2a" stroke-width="1.4"/>
<line x1="466.95" y1="416.94" x2="472.95" y2="416.94" stroke="#2a2a2a" stroke-width="1.5"/>
<rect x="490.9" y="384.44" width="10.3" height="41.36" fill="#a30c33" stroke="#7d0a28" stroke-width="0.5"/>
<line x1="496.05" y1="384.44" x2="496.05" y2="377.69" stroke="#2a2a2a" stroke-width="1.4"/>
<line x1="493.05" y1="377.69" x2="499.05" y2="377.69" stroke="#2a2a2a" stroke-width="1.5"/>
<circle cx="494.2" cy="372.5" r="1.25" fill="#151515"/>
<circle cx="498.2" cy="372.5" r="1.25" fill="#151515"/>
<text x="484.7" y="342.3" font-size="10" fill="#000" font-weight="bold" text-anchor="middle">HSC</text>
<text x="470.1" y="438.93" font-size="7.8" fill="#1e1e1e" text-anchor="middle">Ctrl</text>
<text x="495.7" y="438.93" font-size="7.8" fill="#1e1e1e" text-anchor="middle">miR-26</text>
<text x="495.7" y="448.53" font-size="7.8" fill="#1e1e1e" text-anchor="middle">TuD</text>
<text transform="translate(367.37 391.7) rotate(-90)" font-size="10.2" fill="#222" stroke="#222" stroke-width="0.32" text-anchor="middle" textLength="75.7" lengthAdjust="spacingAndGlyphs">Relative expression of <tspan font-style="italic">Bak1</tspan></text>
<rect x="0" y="0" width="520" height="1.4" fill="#000"/><rect x="0" y="0" width="1.4" height="458" fill="#000"/><rect x="518.6" y="0" width="1.4" height="458" fill="#000"/><rect x="0" y="456.6" width="520" height="1.4" fill="#000"/>
</svg>
</body></html>
